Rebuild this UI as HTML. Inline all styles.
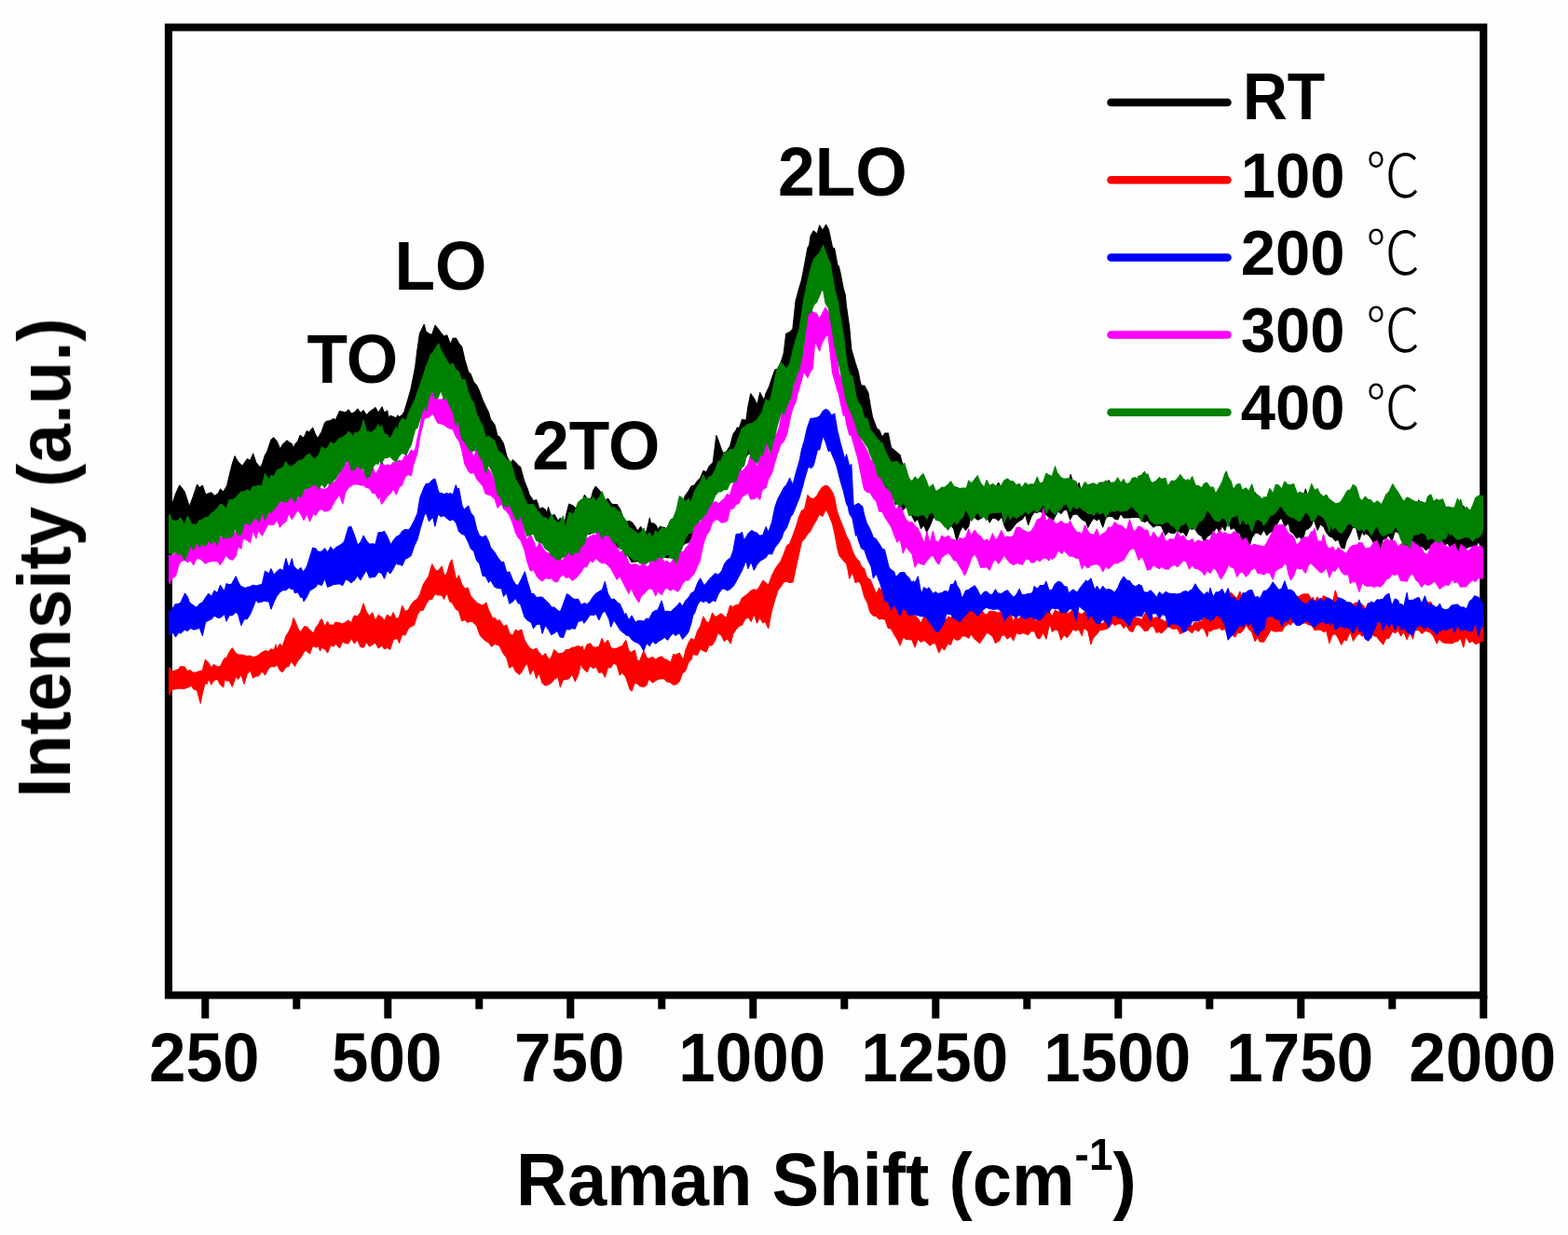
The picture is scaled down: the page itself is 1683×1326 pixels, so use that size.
<!DOCTYPE html>
<html lang="en"><head><meta charset="utf-8"><title>Raman Shift</title>
<style>html,body{margin:0;padding:0;background:#fefefe;}body{width:1683px;height:1326px;overflow:hidden;}svg{display:block;}text{font-family:"Liberation Sans","Noto Sans CJK KR","Noto Sans CJK SC","NanumGothic",sans-serif;font-weight:bold;fill:#000;}.c{stroke-linejoin:round;stroke-width:1.2;}</style></head><body>
<svg width="1683" height="1326" viewBox="0 0 1683 1326">
<rect x="0" y="0" width="1683" height="1326" fill="#fefefe"/>
<filter id="soft" x="0" y="0" width="1683" height="1326" filterUnits="userSpaceOnUse"><feGaussianBlur stdDeviation="0.55"/></filter>
<g filter="url(#soft)">
<clipPath id="pc"><rect x="180.9" y="29.4" width="1411.4" height="1039.1"/></clipPath>
<rect x="180.9" y="29.4" width="1411.4" height="1039.1" fill="none" stroke="#000" stroke-width="8.1"/>
<g clip-path="url(#pc)">
<path class="c" fill="#000000" stroke="#000000" d="M179.5,541.0 182.1,542.9 184.3,542.7 188.5,530.6 192.6,521.2 194.9,523.7 198.1,528.1 201.3,537.7 203.3,544.3 207.7,532.3 211.6,520.4 214.1,523.9 217.3,521.3 220.5,530.5 222.3,530.6 223.7,529.9 226.9,528.9 230.1,532.6 234.2,529.9 236.5,525.2 239.7,528.4 243.7,521.5 246.1,511.2 249.3,498.1 252.0,489.9 255.7,496.2 258.9,499.3 260.3,500.1 262.1,497.5 265.3,492.9 268.6,494.6 271.7,487.2 274.9,496.9 279.3,502.1 281.3,498.6 284.5,488.6 286.5,485.6 290.9,472.4 293.6,469.9 297.3,474.2 300.7,482.3 303.7,477.1 307.8,473.1 310.1,474.7 313.3,476.8 315.0,481.6 316.5,477.4 319.7,474.0 322.1,467.4 326.1,470.4 329.3,462.8 331.6,464.5 335.7,459.5 338.9,467.4 341.1,470.8 345.3,463.5 348.5,454.1 350.6,452.4 354.9,451.5 358.1,449.6 360.1,451.2 364.5,441.6 368.5,442.4 370.9,442.9 374.1,439.9 376.8,444.0 380.5,442.9 383.9,439.1 386.9,443.7 390.1,440.7 393.4,445.9 396.5,442.3 400.5,439.6 402.9,437.6 406.1,443.3 410.0,437.1 412.5,443.2 415.7,441.0 417.2,449.7 418.9,446.3 422.1,447.6 425.3,449.0 426.7,446.0 428.5,447.9 431.7,445.5 433.8,442.5 438.1,428.2 440.9,418.5 445.7,394.4 447.7,377.6 450.5,358.2 455.2,348.6 457.3,356.3 461.1,358.8 463.7,359.1 467.1,349.5 470.1,353.1 473.3,357.3 476.6,361.3 479.7,359.9 483.7,369.9 486.1,363.3 489.3,363.1 493.2,369.7 495.7,372.5 498.9,386.5 502.7,399.5 505.3,402.0 508.5,410.5 511.7,413.9 514.6,420.1 518.1,429.7 521.3,436.6 524.5,443.0 526.5,450.3 530.9,456.0 534.1,468.3 536.0,468.7 540.5,476.6 543.7,489.2 545.5,493.6 546.9,500.2 550.1,493.8 553.3,496.4 556.5,500.3 558.5,501.2 562.9,517.1 566.1,524.7 568.0,531.0 572.5,537.8 575.7,536.7 577.5,541.7 578.9,546.8 582.1,544.9 585.3,547.3 587.0,551.8 588.5,544.6 591.7,555.0 594.9,552.4 598.9,559.3 601.3,556.4 604.5,559.4 606.1,561.8 607.7,553.2 610.8,541.2 614.1,542.5 617.3,545.1 620.3,550.0 623.7,541.5 627.4,531.5 630.1,535.5 634.6,535.2 636.5,527.3 639.3,522.4 642.9,526.2 646.5,531.0 649.3,538.2 652.5,535.3 656.0,540.7 658.9,541.7 662.1,541.7 665.5,546.8 668.5,554.9 672.6,560.5 674.9,559.4 678.1,560.7 682.1,566.2 684.5,570.2 687.7,565.6 691.6,573.2 694.1,570.2 697.3,556.3 698.7,562.7 700.5,561.4 703.7,563.5 706.9,569.4 708.3,565.3 710.1,565.9 713.3,566.5 715.4,567.7 719.7,560.9 722.9,556.8 724.9,554.5 729.3,540.6 732.5,541.8 734.4,535.1 735.7,531.8 738.9,527.6 742.1,522.1 745.3,521.0 748.7,516.3 751.7,513.5 754.9,505.6 758.2,507.0 761.3,500.6 765.3,496.6 768.9,467.7 770.9,472.8 774.8,484.1 777.3,487.4 780.5,484.0 781.9,481.5 783.7,478.9 786.9,466.5 790.1,461.8 791.4,459.0 793.3,460.1 796.5,450.4 800.9,451.3 802.9,436.8 805.7,422.9 809.3,427.8 812.8,434.8 815.7,421.6 820.0,430.0 822.1,422.4 825.9,414.5 828.5,406.2 831.8,397.1 834.9,396.2 839.0,386.7 841.3,379.3 843.7,358.6 847.7,356.6 850.9,353.5 854.1,323.0 855.6,317.8 857.3,311.1 860.5,300.3 862.7,289.0 866.9,266.4 868.7,263.3 870.1,253.4 873.3,247.9 877.0,251.5 879.7,242.0 882.9,247.6 886.6,241.4 889.3,246.2 893.5,265.7 895.7,267.1 898.9,284.6 900.3,285.9 902.1,293.6 905.3,310.2 907.1,316.1 908.5,329.3 911.7,351.6 913.8,375.1 918.1,390.0 921.3,399.8 922.9,408.6 924.5,414.1 927.7,414.0 931.9,421.9 934.1,435.3 936.5,447.9 941.0,459.9 943.7,462.0 946.9,469.4 950.0,465.2 953.3,465.0 956.5,480.7 959.1,482.8 962.9,485.9 966.1,488.7 968.1,496.5 972.5,504.4 975.6,516.8 978.9,520.7 982.1,520.4 985.1,522.7 988.5,519.9 991.0,516.8 994.9,527.9 997.0,530.7 1001.3,523.8 1004.5,533.5 1008.8,532.3 1010.9,532.4 1014.1,530.3 1018.3,528.2 1020.5,528.1 1023.7,530.4 1027.8,529.8 1030.1,528.2 1033.3,526.5 1037.4,530.4 1039.7,522.0 1042.9,523.1 1046.1,519.0 1049.2,518.8 1052.5,526.0 1056.4,529.4 1058.9,529.6 1062.1,523.3 1065.9,526.6 1068.5,523.7 1071.7,518.3 1074.9,525.2 1077.8,523.9 1081.3,524.1 1083.7,526.0 1087.3,517.2 1090.8,525.1 1094.1,527.3 1096.8,531.2 1100.5,527.9 1103.7,528.7 1106.3,525.9 1110.1,523.4 1113.3,526.8 1115.8,526.8 1119.7,526.3 1122.9,524.3 1125.3,518.1 1129.3,518.0 1132.5,517.6 1134.8,517.0 1138.9,522.2 1141.9,522.3 1146.2,519.5 1149.1,509.6 1152.4,519.6 1154.9,525.3 1158.1,518.4 1160.9,529.5 1164.5,529.4 1167.7,525.0 1170.5,526.5 1174.1,524.7 1177.3,524.0 1180.5,522.7 1184.7,524.4 1186.9,520.9 1190.1,515.7 1193.3,521.8 1196.6,525.5 1199.7,531.3 1202.9,520.7 1206.1,527.4 1208.5,526.9 1212.5,523.1 1215.7,526.7 1218.9,517.0 1220.4,521.7 1222.1,521.0 1225.3,520.5 1228.5,513.1 1229.9,516.7 1231.7,509.3 1234.9,522.9 1237.0,525.6 1241.3,521.6 1244.1,513.3 1247.5,521.7 1250.9,522.5 1253.6,527.5 1257.3,519.7 1260.5,521.9 1263.1,521.8 1266.9,524.2 1270.1,521.5 1273.3,521.4 1275.0,522.3 1276.5,525.3 1279.7,516.3 1282.9,524.9 1284.5,526.5 1286.1,524.1 1290.0,529.4 1292.5,529.9 1295.2,524.0 1298.9,529.9 1302.1,531.1 1304.7,537.2 1308.5,524.2 1311.7,527.5 1314.9,511.6 1316.5,515.0 1318.1,517.6 1321.3,524.5 1323.7,531.4 1327.7,530.3 1330.9,527.5 1333.2,532.4 1337.3,531.9 1340.5,527.8 1343.7,531.2 1345.1,532.7 1346.9,528.9 1350.1,533.0 1354.6,544.0 1356.5,540.2 1359.7,541.3 1362.9,533.7 1366.5,535.8 1369.3,536.5 1372.5,528.6 1375.7,526.6 1378.9,526.2 1380.7,524.7 1382.1,522.0 1385.3,526.7 1388.5,530.5 1392.6,537.2 1394.9,535.0 1398.1,538.1 1401.3,525.1 1404.5,537.2 1407.7,531.2 1410.9,532.1 1414.1,540.6 1416.4,536.8 1421.1,537.3 1424.0,534.8 1427.1,540.3 1430.1,539.1 1433.3,541.5 1437.8,546.0 1439.7,541.5 1442.9,543.6 1446.1,534.9 1449.6,532.5 1452.5,537.6 1455.7,539.0 1459.2,541.8 1462.1,541.8 1465.3,542.1 1468.5,543.6 1471.0,544.8 1474.9,541.0 1478.1,546.4 1481.3,550.1 1482.9,549.4 1484.5,542.3 1487.7,542.6 1490.9,531.3 1494.8,527.0 1497.3,528.9 1500.5,534.7 1504.3,541.6 1506.9,544.8 1510.1,540.7 1513.3,537.7 1516.2,543.6 1519.7,544.0 1522.9,536.9 1526.1,548.9 1530.5,546.6 1532.5,547.8 1535.7,547.0 1538.9,545.5 1542.1,543.8 1544.7,543.4 1548.5,546.1 1551.7,549.2 1554.2,551.6 1558.1,552.0 1561.3,551.4 1564.5,544.9 1566.1,546.5 1567.7,548.3 1570.9,543.3 1574.4,552.1 1577.5,547.6 1580.4,554.5 1583.7,550.4 1586.9,543.9 1590.1,538.9 1592.2,544.7 1592.2,586.1 1590.1,588.1 1586.9,581.2 1583.7,588.0 1580.5,586.5 1578.0,586.7 1574.1,588.4 1570.9,591.4 1567.7,591.1 1566.1,592.3 1564.5,590.5 1561.3,587.7 1558.1,591.9 1554.2,583.0 1551.7,584.4 1548.5,589.5 1545.3,585.7 1542.1,591.0 1540.0,583.6 1535.7,588.7 1532.5,588.8 1530.5,590.6 1526.1,586.1 1522.9,589.9 1519.7,589.3 1516.5,585.3 1513.3,583.8 1511.4,586.2 1510.1,586.9 1506.9,582.8 1503.7,570.9 1501.9,573.5 1500.5,571.7 1497.3,570.2 1494.1,580.7 1490.0,573.9 1487.7,578.3 1484.5,578.8 1481.3,588.9 1478.2,582.1 1474.9,583.7 1471.7,578.1 1468.5,573.9 1465.3,572.6 1463.9,574.3 1462.1,570.2 1458.9,579.5 1455.7,567.0 1452.0,566.1 1449.3,572.5 1444.9,581.1 1442.9,589.0 1439.7,588.0 1436.5,579.0 1433.3,580.6 1430.6,577.3 1426.9,575.7 1423.7,571.7 1421.1,566.0 1417.3,562.6 1414.1,569.2 1410.9,559.2 1409.2,559.2 1407.7,563.8 1404.5,567.4 1401.3,568.9 1398.1,580.0 1395.0,576.1 1391.7,577.7 1388.5,573.0 1385.3,570.5 1383.1,561.5 1378.9,565.0 1375.7,556.6 1373.6,557.3 1369.3,565.5 1366.1,569.9 1361.7,572.5 1359.7,574.7 1356.5,568.8 1353.3,574.3 1349.8,571.9 1346.9,572.4 1343.7,577.4 1340.5,588.1 1337.9,582.4 1334.1,583.6 1330.8,572.8 1327.7,571.5 1324.5,566.5 1321.3,568.2 1318.1,558.9 1316.5,563.6 1314.9,569.6 1311.7,564.3 1308.5,572.4 1307.0,567.5 1305.3,566.7 1302.1,571.9 1298.9,573.9 1295.2,576.6 1292.5,581.3 1290.0,575.8 1286.1,573.3 1282.2,567.0 1279.7,568.2 1276.5,567.2 1273.3,575.6 1270.3,571.3 1266.9,572.0 1263.7,568.5 1260.5,572.7 1256.0,571.9 1254.1,570.6 1250.9,574.6 1246.5,564.8 1244.5,564.2 1241.3,563.8 1238.1,566.0 1234.6,562.6 1231.7,558.7 1228.5,560.5 1225.3,558.4 1222.7,555.7 1218.9,555.1 1215.7,555.5 1212.5,555.9 1208.5,555.6 1206.1,556.0 1202.9,551.2 1199.7,558.0 1196.5,557.0 1194.2,554.6 1190.1,554.1 1186.9,556.1 1183.7,565.9 1180.0,556.3 1177.3,558.9 1174.1,556.2 1170.9,560.5 1167.7,566.2 1165.7,559.9 1161.3,557.7 1158.1,554.1 1156.2,551.8 1151.7,552.3 1148.5,557.7 1145.3,547.0 1141.9,547.7 1138.9,551.4 1135.7,548.8 1132.5,554.1 1129.3,561.1 1127.7,558.0 1126.1,555.2 1122.9,552.5 1119.7,550.6 1115.8,549.0 1113.3,550.6 1110.1,549.6 1106.9,554.7 1103.7,563.5 1100.5,552.0 1099.2,554.4 1097.3,557.3 1094.1,559.3 1090.9,561.4 1087.3,566.1 1084.5,569.7 1081.3,570.2 1078.1,564.5 1075.4,554.6 1071.7,558.8 1068.5,556.4 1065.3,555.9 1062.1,561.0 1058.9,552.3 1056.4,553.8 1052.5,556.7 1049.3,558.1 1046.1,555.5 1042.1,553.5 1039.7,564.8 1036.5,569.1 1033.3,565.1 1030.2,570.8 1026.9,580.5 1023.7,567.6 1020.5,563.6 1017.3,562.2 1013.6,561.3 1010.9,558.3 1007.7,556.8 1004.5,555.7 1001.7,555.6 998.1,564.4 994.6,571.2 991.7,563.5 988.5,567.3 985.1,556.9 982.1,560.1 978.9,553.9 975.6,546.5 972.5,544.1 969.3,547.3 966.1,542.4 962.9,540.2 961.3,541.8 959.7,535.3 956.5,535.5 953.3,534.5 949.4,528.0 946.9,516.0 943.7,498.3 941.0,486.7 937.3,483.0 934.1,472.6 931.9,469.1 927.7,462.4 924.5,454.1 922.9,452.0 921.3,447.5 918.1,435.3 913.8,423.9 911.7,416.4 908.5,402.4 904.8,391.7 902.1,374.9 898.9,362.8 895.7,336.8 892.5,322.0 889.3,305.6 886.6,295.3 882.9,304.2 879.7,316.0 876.5,321.4 874.6,319.2 873.3,323.7 870.1,336.2 866.9,348.4 862.7,361.2 860.5,373.3 857.3,382.1 854.1,400.5 850.9,410.2 848.5,419.2 844.5,435.9 841.3,431.4 838.1,437.3 834.2,445.2 831.7,448.9 828.5,454.2 825.3,467.2 822.1,468.3 818.9,471.2 815.2,476.2 812.5,484.3 809.3,486.6 806.1,486.5 802.9,487.7 799.7,491.6 796.5,499.8 793.3,494.1 791.4,500.8 790.1,500.2 786.9,508.8 783.7,512.1 780.5,517.6 777.3,517.9 774.1,525.0 770.9,527.9 767.7,523.0 764.5,521.9 761.3,528.1 758.1,536.1 754.9,533.5 751.7,542.7 748.7,536.5 745.3,568.4 743.9,574.3 742.1,577.4 738.9,582.6 735.7,583.1 734.4,584.4 732.5,580.5 729.3,589.3 726.1,593.5 722.9,599.7 720.1,597.9 716.5,598.8 713.3,598.0 710.1,593.7 705.9,598.2 703.7,604.5 700.5,605.9 696.4,600.0 694.1,604.6 690.9,604.8 687.7,603.2 684.5,602.4 682.1,602.8 678.1,603.5 675.0,598.0 671.7,591.4 667.8,589.1 665.3,585.4 662.1,588.6 658.9,585.5 655.7,577.5 653.6,574.8 649.3,574.7 646.1,575.0 642.9,576.9 639.3,569.7 636.5,570.2 633.3,573.5 630.1,572.4 626.9,577.4 625.1,573.8 623.7,580.1 620.5,580.3 617.3,585.8 614.1,583.3 610.9,586.9 607.7,590.7 606.1,594.8 604.5,597.0 601.3,591.8 598.1,589.0 594.9,586.8 591.7,583.2 589.4,584.8 585.3,579.2 582.1,583.3 578.9,575.6 575.7,577.0 572.5,570.1 568.0,571.2 566.1,571.2 562.9,557.3 559.7,551.4 556.5,547.4 553.3,539.8 550.1,535.5 546.9,525.7 545.5,522.1 543.7,518.5 540.5,514.9 537.3,508.2 534.1,499.2 530.9,486.7 526.5,481.2 524.5,473.9 521.3,470.3 518.1,466.9 514.6,454.9 511.7,449.8 508.5,449.2 505.3,438.4 502.7,430.3 498.9,417.6 495.7,416.6 492.5,408.9 490.9,403.5 489.3,400.3 486.1,398.0 482.9,401.0 479.7,407.1 476.5,395.5 473.3,402.2 469.5,393.6 466.9,396.5 463.7,390.1 460.5,395.4 457.3,397.4 455.2,398.1 450.9,418.6 447.7,438.3 445.7,445.4 441.3,456.8 438.1,461.1 436.2,469.8 431.7,471.9 428.5,468.0 425.3,474.2 422.1,478.3 418.9,468.8 415.7,472.2 412.5,475.6 409.3,472.9 407.7,470.4 406.1,477.6 402.9,469.6 399.7,470.0 396.5,482.2 393.3,476.8 390.1,471.7 386.9,471.3 383.7,479.5 380.5,479.5 377.3,476.5 374.1,476.5 370.9,484.2 367.7,484.3 364.5,482.3 360.1,481.6 358.1,484.0 354.9,483.3 351.7,484.8 348.5,490.3 345.3,489.2 342.1,492.5 338.9,491.5 335.7,498.0 332.5,497.4 329.3,499.4 326.1,497.9 322.9,504.3 319.7,503.9 316.5,510.3 312.6,507.1 310.1,516.6 306.9,509.9 303.7,512.8 300.5,513.1 297.3,518.3 294.1,519.6 290.9,523.8 287.7,523.3 284.5,522.3 281.3,523.2 278.1,530.0 274.9,525.5 271.7,530.4 268.5,536.0 265.1,529.9 262.1,534.9 258.9,530.8 255.7,537.4 252.5,546.0 249.3,546.9 246.1,544.8 242.9,558.4 239.7,550.5 236.5,558.7 233.3,555.8 230.1,553.9 226.9,558.9 223.7,563.4 220.5,568.9 217.5,564.7 214.1,574.1 210.9,573.8 207.7,570.1 204.5,571.9 201.3,571.5 198.1,573.6 194.9,575.2 191.7,567.4 188.5,571.1 185.3,577.2 182.1,574.1 179.5,572.5Z"/>
<path class="c" fill="#ff0000" stroke="#ff0000" d="M179.5,722.3 182.1,717.0 184.3,721.2 188.5,719.7 191.7,718.5 193.8,715.7 198.1,716.0 201.3,721.1 203.3,719.4 207.7,722.4 210.9,721.9 215.2,720.3 217.3,720.0 220.5,708.4 223.7,711.8 226.9,717.1 229.4,713.6 233.3,715.9 236.5,715.5 239.7,709.0 241.3,706.6 242.9,707.0 246.1,700.4 249.3,695.8 253.2,701.6 255.7,703.1 258.9,703.2 262.1,703.9 265.1,704.5 268.5,704.2 271.7,705.5 274.9,704.8 277.0,703.7 281.3,700.5 284.5,698.7 288.8,699.5 290.9,696.9 294.1,698.4 296.0,692.3 297.3,697.3 300.5,691.3 303.1,694.6 306.9,683.2 310.2,677.9 313.3,670.8 315.0,663.5 316.5,666.6 319.7,674.5 322.1,679.1 326.9,672.7 329.3,673.2 332.5,676.5 336.4,680.3 338.9,674.1 342.1,670.0 343.5,666.6 345.3,664.7 348.5,672.9 351.7,667.4 353.0,671.1 354.9,671.0 358.1,671.3 360.1,668.1 364.5,668.9 367.7,670.0 369.6,669.0 374.1,666.1 377.3,669.2 379.2,663.0 380.5,661.2 383.7,661.8 386.9,658.0 390.1,648.1 393.4,657.4 396.5,661.8 399.7,657.8 402.9,666.6 406.1,660.5 410.0,663.0 412.5,666.7 415.7,660.1 419.6,663.3 422.1,657.7 425.3,664.8 426.7,663.8 428.5,662.7 431.7,650.3 434.9,656.9 438.6,654.5 441.3,649.4 444.5,645.4 448.1,643.0 450.9,638.0 454.1,628.2 457.3,622.9 460.0,619.0 463.7,605.8 466.9,611.8 470.1,613.4 474.2,608.2 476.5,617.0 479.0,617.8 482.9,604.6 484.9,601.0 489.7,623.2 492.5,617.9 495.6,627.5 498.9,632.2 502.1,631.0 505.3,640.2 507.5,642.6 511.7,647.3 514.6,648.7 518.1,650.3 521.8,647.1 524.5,655.2 528.9,664.2 530.9,663.4 534.1,667.2 536.0,665.6 540.5,672.6 543.7,671.2 546.9,680.2 550.3,682.6 553.3,676.2 556.1,678.1 559.7,676.0 562.9,687.0 565.7,692.2 569.3,696.6 572.5,698.0 575.7,696.1 577.5,699.4 578.9,700.9 582.1,704.9 585.3,701.8 589.4,708.6 591.7,705.7 594.9,697.7 598.9,701.8 601.3,701.5 604.5,701.0 607.7,697.7 610.8,697.3 614.1,695.4 617.3,694.8 620.5,693.6 623.7,695.2 625.1,693.9 626.9,699.9 630.1,692.2 633.3,690.9 637.0,695.2 639.7,695.2 642.9,694.3 646.1,685.6 648.8,691.3 652.5,687.5 655.7,695.5 658.3,696.9 662.1,696.2 665.3,694.4 667.8,693.8 671.7,687.5 674.9,698.9 677.4,700.7 681.3,698.1 684.5,710.6 686.9,708.9 690.9,699.0 694.1,706.0 696.4,707.4 700.5,705.5 703.7,708.5 705.9,706.6 710.1,704.9 713.3,707.9 715.4,708.2 719.7,711.4 722.9,702.5 724.9,703.2 729.3,701.2 732.5,707.8 734.4,705.5 735.7,698.8 739.2,689.9 742.1,685.6 745.3,687.8 748.7,677.5 751.7,672.5 754.9,662.1 758.2,667.9 761.3,668.3 764.5,658.4 767.7,662.6 770.0,661.6 774.1,658.8 777.3,662.0 779.6,663.6 783.7,650.2 786.9,652.0 789.1,650.0 793.3,649.2 796.2,642.6 799.7,639.9 802.9,637.6 805.7,634.6 809.3,632.9 812.5,633.8 815.2,630.0 818.9,623.3 822.1,625.9 824.7,628.7 828.5,618.2 831.8,611.5 834.9,606.9 838.1,602.6 841.3,595.0 844.5,586.3 847.7,583.8 850.9,575.5 854.1,566.8 857.3,556.0 860.4,548.5 863.7,546.5 866.9,531.7 869.9,534.9 873.3,535.5 876.5,533.1 879.4,527.7 882.9,522.8 886.5,521.3 889.3,522.5 893.6,528.9 895.7,534.7 898.4,549.0 902.1,559.1 905.5,567.8 908.5,575.8 911.7,581.4 915.0,591.5 918.1,598.4 922.2,602.7 924.5,608.3 927.7,611.2 930.9,620.6 934.1,622.4 937.5,630.5 940.5,637.8 943.7,631.2 947.0,635.4 950.1,636.7 953.3,645.5 956.5,650.9 959.7,649.4 962.9,650.5 966.1,653.0 969.3,651.0 972.5,647.3 975.6,659.7 978.9,659.6 982.1,661.2 985.1,664.2 988.5,669.4 991.7,661.9 994.9,660.2 997.0,663.8 1001.3,667.9 1004.5,663.7 1008.8,674.1 1010.9,673.3 1014.1,667.0 1018.3,662.1 1020.5,664.0 1023.7,657.9 1026.9,658.5 1030.1,653.6 1032.6,663.8 1036.5,658.7 1039.7,652.9 1042.1,656.6 1046.1,644.8 1049.3,660.1 1052.5,653.8 1056.4,659.1 1058.9,660.3 1062.1,656.4 1065.9,656.6 1068.5,657.0 1071.7,658.3 1075.4,656.1 1078.1,657.8 1081.3,653.8 1084.5,657.8 1087.7,668.1 1089.6,663.0 1094.1,665.1 1097.3,655.9 1100.5,662.6 1103.9,661.9 1106.9,660.2 1110.1,665.9 1113.4,667.4 1116.5,660.3 1119.7,662.6 1122.9,658.1 1126.1,656.4 1129.3,662.0 1132.5,655.2 1135.7,656.8 1137.2,657.3 1138.9,656.1 1142.1,646.7 1145.3,659.0 1149.1,657.2 1151.7,653.7 1154.9,654.8 1158.1,657.9 1160.9,659.9 1164.5,657.0 1167.7,653.3 1170.9,659.9 1175.2,660.5 1177.3,663.5 1180.5,669.3 1184.7,669.2 1186.9,660.2 1190.1,664.5 1193.3,656.7 1196.5,658.3 1199.0,662.9 1202.9,662.3 1206.1,667.4 1209.3,663.0 1210.9,669.5 1212.5,670.2 1215.7,664.1 1218.9,663.4 1222.7,663.7 1225.3,666.2 1228.5,659.6 1231.7,655.1 1234.6,658.9 1238.1,664.4 1241.3,662.5 1244.5,664.7 1246.5,665.0 1250.9,667.7 1254.1,664.3 1257.3,668.2 1260.8,668.0 1263.7,664.6 1266.9,672.3 1270.3,664.0 1273.3,661.5 1276.5,670.1 1279.7,672.5 1282.2,668.4 1286.1,668.1 1290.0,666.7 1292.5,663.3 1295.7,658.4 1297.5,657.8 1298.9,652.4 1302.1,656.3 1305.3,652.2 1308.5,650.8 1311.7,648.3 1314.9,645.2 1318.1,641.8 1321.3,636.3 1323.7,639.0 1327.7,642.8 1330.9,635.2 1334.1,646.7 1337.3,653.7 1340.5,649.6 1343.7,657.3 1345.1,657.4 1346.9,655.6 1350.1,660.5 1353.3,657.2 1356.5,656.3 1359.7,656.5 1362.9,654.4 1366.1,646.2 1368.8,654.0 1372.5,643.1 1375.7,651.1 1378.9,651.5 1382.1,644.0 1385.3,637.9 1388.5,643.7 1392.6,640.3 1394.9,640.3 1398.1,638.1 1401.3,637.9 1404.5,638.0 1407.7,644.6 1409.2,641.3 1410.9,645.9 1414.1,641.1 1417.3,645.5 1420.5,639.7 1423.7,641.5 1426.9,643.1 1430.6,646.1 1433.3,634.2 1436.5,644.9 1440.1,644.0 1442.9,651.8 1446.1,646.5 1449.3,647.1 1452.5,649.1 1455.7,647.0 1458.9,647.3 1462.1,649.2 1463.9,650.9 1465.3,654.2 1468.5,647.5 1471.7,651.8 1474.9,652.7 1478.1,644.5 1481.3,654.2 1484.5,649.6 1487.7,655.6 1490.9,655.6 1494.1,653.1 1497.3,653.2 1500.5,653.9 1503.7,651.3 1506.9,655.5 1510.1,647.2 1511.4,651.1 1513.3,654.4 1516.5,653.0 1519.7,651.2 1522.9,641.4 1526.1,650.4 1529.3,645.0 1532.8,647.0 1535.7,646.4 1538.9,654.1 1542.1,652.0 1545.3,653.7 1547.1,658.3 1548.5,658.4 1551.7,662.3 1554.9,659.3 1558.1,658.9 1561.3,658.7 1564.5,658.8 1567.7,661.5 1570.9,663.4 1574.1,669.3 1577.3,660.5 1580.5,667.4 1583.7,662.3 1586.9,666.5 1590.1,659.5 1592.2,663.2 1592.2,688.4 1590.1,688.1 1586.9,690.2 1585.1,690.9 1583.7,691.4 1580.5,688.2 1577.3,689.9 1573.2,683.1 1570.9,695.0 1567.7,685.1 1564.5,688.3 1561.3,689.2 1558.1,691.0 1554.9,690.4 1551.7,690.3 1548.5,689.6 1544.7,685.9 1542.1,690.7 1538.9,683.5 1535.7,679.5 1532.8,678.0 1529.3,677.5 1526.1,680.2 1522.9,676.4 1518.6,676.7 1516.5,685.9 1513.3,679.0 1510.1,686.5 1506.7,678.1 1503.7,682.6 1500.5,676.7 1497.3,679.7 1494.8,677.5 1490.9,685.1 1487.7,685.2 1484.5,691.9 1482.9,689.8 1481.3,688.2 1478.1,683.8 1474.9,682.8 1473.4,680.6 1471.7,685.2 1468.5,676.9 1465.3,678.5 1462.1,683.2 1459.2,680.0 1455.7,682.7 1452.5,688.0 1449.3,678.0 1444.9,688.1 1442.9,686.1 1439.7,692.1 1435.4,683.3 1433.3,680.6 1430.1,681.3 1426.9,690.6 1423.7,676.9 1421.1,678.4 1417.3,676.1 1414.1,675.8 1410.9,676.5 1409.2,673.5 1407.7,671.4 1404.5,670.7 1401.3,668.6 1397.4,669.5 1394.9,671.6 1391.7,668.5 1388.5,666.8 1385.3,671.0 1383.1,669.5 1378.9,672.4 1375.7,678.0 1373.6,677.4 1369.3,678.1 1366.1,677.1 1364.1,676.3 1359.7,683.8 1356.5,689.1 1352.2,688.9 1350.1,683.9 1346.9,688.4 1343.7,678.5 1340.5,675.6 1337.9,670.8 1334.1,676.9 1330.9,679.7 1327.7,679.6 1326.1,683.6 1324.5,683.3 1321.3,678.3 1318.1,683.0 1314.9,675.0 1311.7,676.5 1309.4,673.9 1305.3,675.3 1302.1,675.7 1298.9,677.9 1297.5,675.6 1295.7,683.4 1292.5,675.6 1290.0,673.7 1286.1,677.8 1282.2,675.4 1279.7,679.5 1276.5,677.2 1273.3,675.5 1270.3,678.6 1266.9,680.6 1263.7,674.7 1260.5,675.1 1258.4,675.2 1254.1,672.2 1250.9,675.5 1246.5,679.9 1244.5,678.0 1241.3,679.3 1238.1,672.0 1234.6,672.8 1231.7,677.2 1228.5,677.3 1225.3,673.2 1222.7,670.7 1218.9,671.4 1215.7,678.5 1212.5,677.2 1208.5,671.1 1206.1,674.4 1202.9,669.3 1199.7,669.8 1196.5,671.3 1194.2,668.7 1190.1,673.7 1186.9,675.4 1183.7,676.2 1182.3,676.3 1180.5,676.3 1177.3,680.6 1172.8,685.7 1170.9,691.7 1167.7,677.2 1163.3,674.2 1161.3,682.6 1158.1,675.8 1154.9,677.1 1151.4,675.6 1148.5,680.5 1145.3,684.5 1141.9,681.4 1138.9,687.0 1135.7,676.6 1132.5,675.8 1129.3,678.2 1127.7,672.2 1126.1,671.4 1122.9,686.0 1119.7,679.0 1115.8,685.8 1113.3,684.7 1110.1,677.3 1106.3,677.8 1103.7,681.3 1100.5,680.6 1099.2,679.4 1097.3,679.6 1094.1,681.0 1090.9,679.2 1087.7,687.7 1084.9,682.8 1081.3,685.9 1078.1,681.6 1074.9,682.3 1073.0,687.4 1071.7,688.1 1068.5,690.4 1065.3,683.0 1061.1,679.9 1058.9,679.5 1055.7,684.3 1051.6,690.5 1049.3,688.5 1046.1,685.9 1042.1,680.5 1039.7,685.1 1036.5,682.9 1032.6,682.6 1030.1,686.5 1026.9,687.3 1023.1,684.3 1020.5,692.3 1017.3,690.9 1013.6,697.8 1010.9,694.8 1007.7,700.6 1004.1,690.5 1001.3,690.6 998.1,693.1 994.6,689.4 991.7,687.2 988.5,689.3 985.1,685.8 982.1,694.8 978.9,686.9 975.6,686.7 972.5,686.3 969.3,683.7 966.1,692.8 963.7,687.5 959.7,680.9 956.5,674.9 953.3,674.4 950.1,665.3 947.0,664.1 943.7,664.8 940.5,661.5 937.5,661.1 934.1,657.6 930.9,646.7 927.7,640.7 924.5,628.4 922.2,624.1 918.1,625.4 914.9,614.2 911.7,621.2 910.3,612.5 908.5,604.7 905.3,601.7 902.1,597.8 900.8,596.1 898.9,589.0 895.7,571.7 893.6,562.5 889.3,551.8 886.5,546.6 882.9,554.3 879.4,551.9 876.5,558.2 873.3,563.3 869.9,570.0 866.9,573.2 863.7,578.1 860.4,581.5 857.3,595.7 854.1,610.3 850.9,625.0 847.7,625.5 844.5,624.2 841.3,624.8 838.1,629.4 834.9,633.8 831.8,643.5 828.3,655.8 824.7,674.5 821.1,667.1 818.9,668.8 815.2,662.7 812.5,668.9 809.3,659.1 806.1,667.3 803.3,662.7 799.7,664.6 796.5,671.0 793.3,672.3 791.4,674.0 790.1,675.4 786.9,680.3 784.3,690.8 780.5,685.5 777.3,688.3 774.1,681.7 772.4,681.1 770.9,678.3 767.7,687.1 764.5,692.5 762.9,693.2 761.3,692.0 758.1,700.0 754.9,698.7 753.4,697.7 751.7,696.5 748.5,703.2 745.3,702.8 743.9,701.2 742.1,707.5 738.9,711.3 735.7,720.1 734.4,721.5 732.5,722.6 729.3,731.3 726.1,734.6 722.9,735.2 719.7,732.7 715.4,731.6 713.3,728.9 710.1,728.3 705.9,729.5 703.7,730.7 700.5,732.8 696.4,728.8 694.1,735.3 690.9,737.4 686.9,736.6 684.5,734.2 681.3,732.9 678.1,741.9 676.2,740.3 671.7,726.7 667.8,721.9 665.3,724.9 662.1,713.8 658.3,712.0 655.7,716.7 652.5,716.5 649.3,727.1 646.5,721.6 642.9,722.2 639.7,715.3 637.0,717.5 633.3,714.8 630.1,721.4 626.9,718.6 625.1,716.1 623.7,711.8 620.5,724.8 617.3,731.4 614.1,723.7 610.8,728.4 607.7,729.5 604.5,729.6 601.3,737.4 598.9,726.4 594.9,729.2 591.7,733.2 589.4,734.4 585.3,736.1 582.1,733.2 578.9,723.4 577.5,724.6 575.7,728.3 572.5,717.4 569.3,724.0 565.7,711.8 562.9,715.6 559.7,721.4 557.3,724.0 553.3,720.5 550.3,714.6 546.9,717.0 543.7,706.0 540.5,701.9 536.0,693.1 534.1,692.4 530.9,691.3 527.7,694.1 524.5,689.6 521.8,688.5 518.1,685.1 514.9,681.4 511.7,671.8 507.5,667.7 505.3,667.0 502.1,668.2 498.9,665.4 495.6,666.6 492.5,655.9 489.3,653.7 484.9,646.4 482.9,646.1 479.7,636.6 476.5,643.1 474.2,638.7 470.1,639.0 466.9,637.4 463.7,642.9 460.0,644.1 457.3,648.4 454.1,655.1 450.9,655.3 448.1,659.9 444.5,670.9 441.3,672.6 438.6,674.2 434.9,681.8 431.7,681.1 428.5,690.3 426.7,685.7 425.3,685.7 422.1,686.5 418.9,697.2 415.7,695.3 412.5,696.8 410.0,692.7 406.1,695.7 402.9,689.9 399.7,692.0 396.5,693.9 393.4,689.2 390.1,695.2 386.9,694.5 383.7,686.7 380.5,690.7 379.2,688.6 377.3,685.0 374.1,690.8 370.9,690.7 367.7,688.4 364.5,695.7 360.1,690.8 358.1,694.0 354.9,692.5 351.7,700.6 348.5,696.7 345.3,695.3 343.5,698.6 342.1,693.9 338.9,694.8 335.7,693.1 332.5,701.8 329.3,698.7 326.9,698.7 322.9,705.7 319.7,709.3 316.5,715.1 312.6,709.5 310.1,715.1 306.9,716.1 303.1,721.4 300.5,719.8 297.3,713.3 296.0,715.0 294.1,715.8 290.9,715.5 288.8,717.0 284.5,724.5 281.3,720.7 277.0,725.9 274.9,725.6 271.7,728.0 268.5,719.5 265.1,723.9 262.1,734.2 258.9,724.1 255.7,729.2 253.2,726.0 249.3,737.1 246.1,730.7 242.9,730.8 241.3,728.7 239.7,737.7 236.5,734.9 233.3,729.0 229.4,730.8 226.9,735.0 223.7,728.6 222.3,734.3 220.5,732.9 218.7,738.6 217.3,744.1 215.2,755.2 211.6,741.3 207.7,739.8 205.7,735.9 201.3,738.1 198.1,739.3 193.8,739.2 191.7,738.8 188.5,739.7 184.3,740.5 182.1,745.8 179.5,740.9Z"/>
<path class="c" fill="#0000ff" stroke="#0000ff" d="M179.5,655.1 182.1,656.3 184.3,654.7 188.5,648.7 191.7,648.3 193.8,647.2 198.5,637.2 201.3,641.0 203.3,646.9 208.0,650.4 210.9,652.6 214.1,648.6 217.5,646.7 220.5,642.1 223.7,637.5 227.0,640.5 230.1,634.2 233.3,637.0 236.5,628.5 239.7,633.6 241.3,633.6 242.9,626.8 246.1,627.7 248.4,627.6 253.2,619.0 255.7,625.1 257.9,628.9 262.1,631.3 265.1,630.8 268.5,629.7 271.7,628.3 274.9,629.1 277.0,628.6 281.3,627.3 284.5,613.3 288.8,616.0 290.9,610.8 294.1,617.4 297.3,613.6 300.7,610.9 303.7,613.1 306.9,599.6 310.1,610.1 313.3,599.9 315.0,607.5 316.5,609.4 319.7,612.5 322.9,609.7 324.5,613.1 326.1,613.6 329.3,608.7 331.6,601.4 335.7,588.3 338.9,589.0 341.1,592.3 345.3,592.3 348.5,588.9 351.7,593.4 354.9,587.3 357.8,590.8 361.3,587.3 364.5,585.7 367.7,583.5 369.6,581.5 374.1,566.0 376.8,565.4 380.5,575.0 383.9,585.2 386.9,582.5 390.1,575.3 393.4,580.8 396.5,584.4 399.7,583.8 402.9,584.5 406.1,571.8 410.0,571.5 412.5,570.6 415.7,576.3 419.6,585.2 422.1,580.5 425.3,576.5 426.7,575.5 428.5,575.1 431.7,570.5 434.9,568.4 438.6,569.2 441.3,565.5 444.5,559.4 448.1,551.2 450.9,534.2 455.2,523.5 457.3,519.5 460.5,519.2 464.7,515.0 466.9,514.2 470.1,526.0 471.8,530.5 473.3,529.3 476.5,530.9 479.7,529.5 481.3,530.7 482.9,529.6 486.1,531.2 489.3,520.9 490.9,525.7 492.5,524.3 495.7,541.9 498.0,547.7 502.7,543.3 505.3,550.8 508.5,554.6 511.7,568.3 514.6,575.4 518.1,577.0 521.3,575.1 524.5,581.4 526.5,588.0 530.9,593.1 534.1,598.6 538.4,603.9 540.5,603.2 543.7,614.7 546.9,614.2 550.3,622.7 553.3,627.6 556.1,628.8 559.7,621.8 563.3,614.0 566.1,624.2 570.4,637.9 572.5,637.3 575.7,641.7 579.9,641.0 582.1,641.4 585.3,644.5 589.4,648.4 591.7,651.8 594.9,652.2 598.1,654.9 601.3,657.2 604.5,649.0 608.4,637.9 610.9,639.1 614.1,642.2 617.9,643.7 620.5,643.3 623.7,649.6 627.4,647.6 630.1,649.2 633.3,645.8 637.0,640.3 639.7,637.5 642.9,635.2 646.5,633.2 649.3,624.6 652.5,637.6 656.0,643.8 658.9,643.1 663.1,647.5 665.3,648.4 668.5,655.7 670.2,660.5 671.7,658.6 674.9,666.1 678.1,661.2 682.1,668.5 684.5,666.5 687.7,666.3 690.9,667.3 694.1,663.9 696.4,665.2 700.5,657.5 703.7,655.4 705.9,655.5 710.1,645.2 713.3,656.6 717.8,656.3 719.7,657.1 722.9,654.1 726.1,651.3 729.6,647.2 732.5,651.2 735.7,645.2 739.2,641.6 742.1,636.9 745.3,635.1 748.7,626.1 751.7,621.1 755.8,629.0 758.1,626.5 761.3,622.2 765.3,618.2 767.7,615.7 770.9,617.4 774.8,613.2 777.3,606.2 780.5,601.7 784.3,598.9 786.9,591.6 790.1,573.9 791.4,573.4 793.3,573.7 796.5,571.6 798.6,580.6 802.9,573.3 806.9,569.6 809.3,571.0 812.5,572.3 815.2,575.4 818.9,574.4 822.1,565.7 824.7,571.7 828.5,561.0 831.8,544.7 834.9,535.8 838.1,530.1 841.3,523.7 844.5,520.3 847.7,513.4 850.9,521.1 854.1,508.6 858.0,495.5 860.5,482.7 863.7,472.1 866.3,460.0 870.1,449.3 873.1,449.0 876.5,448.5 879.7,447.1 883.3,441.5 886.1,439.4 889.3,441.1 892.5,446.0 895.7,444.2 898.9,463.0 900.3,468.3 902.1,475.9 905.3,487.8 907.1,494.2 908.5,487.8 911.7,500.8 913.8,498.6 916.1,543.1 918.1,542.2 921.3,540.5 925.7,543.9 927.7,553.3 930.4,562.1 934.1,568.9 937.3,577.3 939.9,578.3 943.7,584.0 946.9,589.3 949.4,590.1 954.2,609.5 956.5,611.8 959.7,614.2 961.3,619.1 962.9,618.6 966.1,615.0 969.3,614.5 970.8,614.8 972.5,617.6 975.7,620.5 978.9,626.1 980.3,623.9 982.1,625.9 985.3,619.1 988.5,635.9 989.8,635.8 991.7,630.7 994.9,633.0 997.0,631.0 1001.3,637.5 1004.5,635.6 1006.5,637.6 1010.9,636.7 1014.1,634.5 1018.3,635.7 1020.5,627.7 1023.7,627.0 1025.5,623.3 1026.9,628.2 1030.1,633.4 1032.6,642.9 1036.5,634.3 1039.7,633.3 1042.1,631.4 1046.1,628.9 1049.3,633.7 1052.5,640.1 1056.4,635.7 1058.9,635.2 1062.1,638.3 1065.3,638.3 1068.5,633.0 1070.6,636.9 1074.9,637.7 1078.1,635.3 1081.3,633.8 1084.9,638.3 1087.7,641.5 1090.9,638.8 1094.1,632.5 1096.8,638.8 1100.5,638.3 1103.7,637.5 1106.9,637.2 1108.7,635.6 1110.1,629.7 1113.3,632.5 1116.5,628.7 1120.5,628.7 1122.9,624.5 1126.1,634.1 1127.7,633.5 1129.3,633.5 1132.5,627.1 1136.0,624.3 1138.9,625.4 1142.1,629.4 1145.3,630.3 1146.7,636.5 1148.5,636.0 1151.7,633.0 1156.2,636.2 1158.1,633.2 1161.3,628.8 1165.7,623.3 1167.7,625.0 1170.9,621.1 1175.2,633.8 1177.3,629.6 1180.5,634.2 1183.7,629.6 1187.1,633.3 1190.1,632.6 1193.3,633.9 1196.6,636.2 1199.7,631.5 1202.9,624.1 1206.1,619.2 1209.3,623.1 1212.5,623.8 1215.6,628.3 1218.9,630.1 1222.1,627.6 1225.3,629.0 1227.5,635.5 1231.7,636.3 1234.9,633.9 1239.4,638.7 1241.3,641.7 1244.5,635.9 1247.7,638.9 1251.3,635.4 1254.1,637.1 1257.3,637.4 1260.5,637.5 1263.1,638.1 1266.9,637.4 1270.1,635.3 1273.3,634.5 1275.0,636.9 1276.5,634.6 1279.7,633.1 1282.9,627.1 1286.1,632.3 1290.0,636.6 1292.5,638.9 1295.7,635.7 1297.5,638.9 1298.9,631.3 1302.1,641.3 1305.3,635.9 1308.5,635.8 1311.8,632.6 1314.9,638.9 1318.1,631.9 1321.3,642.3 1324.5,641.4 1327.7,645.4 1330.8,644.8 1334.1,636.8 1337.3,636.7 1340.3,634.0 1343.7,633.5 1346.9,641.4 1350.1,640.7 1352.2,643.0 1356.5,634.4 1359.3,634.3 1362.9,630.7 1366.1,625.2 1369.3,629.1 1372.5,633.5 1376.0,631.7 1378.9,623.9 1382.1,633.4 1385.5,633.3 1388.5,635.4 1391.7,640.3 1394.9,643.8 1397.4,646.6 1401.3,649.0 1404.5,647.2 1407.7,643.0 1411.6,646.5 1414.1,645.6 1417.3,642.4 1420.5,647.2 1423.7,642.4 1425.9,642.3 1430.1,644.7 1433.0,648.6 1436.5,641.7 1439.7,642.9 1442.5,644.2 1446.1,646.9 1449.3,647.2 1452.5,650.3 1454.4,651.5 1455.7,652.4 1458.9,644.1 1462.1,652.9 1463.9,654.0 1465.3,654.9 1468.5,649.3 1471.7,646.2 1474.9,647.6 1478.1,643.9 1480.5,644.0 1484.5,643.3 1487.7,638.8 1490.9,637.5 1492.4,644.3 1494.1,650.6 1497.3,643.0 1500.5,644.5 1501.9,648.8 1503.7,648.5 1506.9,650.8 1510.1,636.3 1511.4,644.3 1513.3,644.7 1516.5,644.4 1520.9,641.9 1522.9,642.1 1526.1,648.2 1529.3,640.0 1532.8,649.8 1535.7,648.5 1538.9,650.5 1542.1,652.7 1545.3,648.3 1547.1,652.6 1548.5,653.9 1551.7,654.8 1554.9,653.9 1558.1,650.2 1561.3,649.3 1564.5,649.2 1567.7,652.0 1570.9,651.9 1574.1,654.0 1577.3,645.9 1580.5,643.2 1582.7,639.8 1586.9,641.4 1590.1,647.6 1592.2,647.1 1592.2,674.1 1590.1,670.6 1586.9,683.5 1583.7,667.3 1580.5,677.2 1577.3,677.6 1573.2,676.0 1570.9,675.7 1567.7,676.8 1564.5,670.9 1561.3,678.8 1559.0,673.1 1554.9,674.9 1551.7,676.8 1548.5,674.6 1547.1,677.5 1545.3,676.3 1542.1,681.2 1538.9,676.8 1535.2,675.1 1532.5,671.9 1529.3,675.1 1525.7,671.9 1522.9,671.2 1519.7,674.6 1516.5,681.4 1513.3,680.4 1511.4,679.2 1510.1,677.6 1506.9,674.3 1503.7,675.7 1501.9,671.5 1500.5,669.9 1497.3,676.2 1494.1,668.0 1492.4,670.7 1490.9,673.2 1487.7,668.7 1484.5,676.9 1481.3,666.0 1478.2,668.6 1474.9,676.2 1471.7,683.4 1468.7,687.9 1465.3,685.8 1462.1,677.2 1458.9,677.4 1456.8,670.1 1452.5,679.8 1449.3,675.4 1446.1,673.4 1442.5,674.1 1439.7,671.9 1436.5,673.5 1433.3,675.9 1430.1,666.2 1428.3,671.0 1426.9,668.3 1423.7,669.7 1420.5,667.4 1416.4,668.2 1414.1,670.1 1410.9,673.1 1407.7,671.0 1404.5,667.2 1402.1,666.4 1398.1,669.1 1394.9,671.2 1391.7,671.3 1387.8,667.1 1385.3,661.7 1382.1,667.3 1378.9,666.1 1375.7,672.2 1373.6,665.6 1369.3,664.5 1366.1,661.5 1361.7,661.9 1359.7,661.6 1356.5,676.0 1352.2,678.0 1350.1,682.9 1346.9,678.7 1342.7,667.3 1340.5,671.5 1337.3,668.6 1334.1,673.1 1330.8,670.9 1327.7,674.8 1324.5,679.9 1321.3,683.0 1318.1,686.8 1314.9,671.2 1311.7,664.5 1309.4,662.3 1305.3,660.4 1302.1,665.2 1298.9,666.4 1297.5,663.8 1295.7,664.6 1292.5,661.5 1290.0,664.6 1286.1,666.6 1282.9,666.4 1279.7,667.0 1276.5,672.6 1275.0,671.0 1273.3,677.5 1270.1,678.7 1266.9,672.1 1263.7,670.6 1260.8,669.8 1257.3,669.5 1254.1,673.0 1251.3,661.5 1247.7,659.2 1244.5,664.1 1241.3,658.8 1237.0,658.5 1234.9,666.7 1231.7,660.3 1228.5,655.6 1225.3,662.0 1222.7,661.0 1218.9,661.7 1215.7,663.6 1212.5,672.0 1208.5,667.8 1206.1,665.3 1202.9,663.3 1199.7,663.0 1196.5,660.4 1194.2,660.5 1190.1,673.5 1186.9,667.0 1183.7,664.9 1180.0,669.6 1177.3,669.5 1174.1,664.8 1170.9,659.9 1167.7,665.2 1165.7,656.6 1161.3,653.4 1158.1,650.3 1154.9,666.1 1151.4,654.1 1148.5,653.4 1145.3,656.9 1141.9,657.5 1138.9,657.7 1135.7,652.9 1132.5,653.6 1129.3,652.7 1127.7,654.1 1126.1,657.2 1122.9,657.1 1119.7,662.1 1115.8,665.7 1113.3,665.1 1110.1,664.6 1106.9,661.5 1103.9,663.0 1100.5,664.4 1097.3,662.8 1094.1,659.8 1090.9,663.1 1087.3,660.9 1084.5,659.0 1081.3,661.8 1078.1,666.3 1074.9,655.9 1070.6,653.5 1068.5,654.2 1065.3,654.1 1062.1,653.4 1058.9,652.3 1056.4,653.5 1052.5,657.3 1049.3,661.3 1046.1,657.7 1042.9,655.3 1039.7,656.5 1036.5,660.5 1033.3,663.1 1030.1,667.7 1027.8,665.6 1023.7,663.8 1020.5,659.4 1017.3,659.4 1016.0,658.2 1014.1,666.2 1010.9,672.7 1006.5,678.5 1004.5,678.0 1001.3,672.7 998.1,668.4 994.6,663.1 991.7,661.5 988.5,661.6 985.1,660.6 982.1,659.9 978.9,659.8 975.7,660.5 973.2,656.2 969.3,652.3 966.1,661.3 962.9,654.5 961.3,651.4 959.7,649.0 956.5,654.7 953.3,645.8 951.8,646.0 950.1,645.6 946.9,633.6 944.7,626.4 940.5,615.7 937.3,620.6 935.2,608.7 930.9,599.5 928.0,590.7 924.5,588.6 921.3,579.6 919.8,573.7 918.5,575.0 914.9,556.2 911.7,551.3 910.3,544.0 908.5,540.6 905.3,527.1 902.5,517.9 898.0,500.4 895.7,493.9 891.2,483.2 889.3,484.5 886.1,474.3 883.3,467.6 879.7,482.8 877.6,482.3 873.3,499.3 870.9,502.4 867.5,501.2 863.7,513.8 860.5,525.8 858.0,534.3 854.1,543.9 850.9,551.8 848.5,555.0 844.5,566.4 841.3,570.6 839.0,577.5 834.9,583.9 831.7,587.7 828.5,594.9 824.7,594.4 822.1,598.3 818.9,600.4 815.7,602.3 812.8,605.5 809.3,612.0 806.1,602.8 802.9,610.4 800.9,601.7 796.5,612.1 793.3,618.2 789.1,625.9 786.9,629.4 783.7,632.4 780.5,634.0 777.3,632.1 774.8,632.2 770.9,638.0 767.7,645.8 765.3,644.2 761.3,647.7 758.1,645.0 754.9,646.5 753.4,645.1 751.7,644.9 748.5,649.4 745.3,658.7 743.9,660.2 742.1,668.2 738.9,678.5 736.8,681.3 732.5,686.0 729.3,679.6 724.9,682.3 722.9,679.6 719.7,682.5 716.5,687.2 713.3,683.9 710.6,686.4 706.9,688.2 703.7,691.1 700.5,688.5 698.7,690.9 697.3,693.6 694.1,690.3 690.9,698.6 687.7,692.7 684.5,690.1 681.3,689.0 678.1,686.5 674.9,682.3 672.6,682.1 668.5,678.8 665.3,675.7 663.1,672.2 658.9,665.5 655.7,673.0 653.6,664.2 649.3,656.0 646.5,657.8 642.9,665.5 639.7,659.1 637.0,660.5 633.3,659.8 630.1,665.0 626.9,669.0 625.1,665.2 623.7,666.6 620.5,667.1 617.3,675.1 613.2,674.4 610.9,676.0 607.7,675.4 604.5,684.5 601.3,683.9 598.1,677.0 594.9,679.8 591.7,681.4 589.4,676.9 585.3,671.0 582.1,680.1 579.9,670.0 575.7,670.3 572.5,674.6 570.4,668.4 566.1,665.8 562.9,662.1 558.5,648.0 556.5,648.0 553.3,642.0 550.3,645.8 546.9,648.0 543.7,636.3 540.5,640.0 538.4,631.8 534.1,631.4 530.9,629.9 526.5,622.5 524.5,625.3 521.3,618.8 518.1,618.2 514.6,604.9 511.7,601.7 508.5,591.5 505.3,588.7 502.7,582.2 498.9,574.5 495.7,573.3 492.5,570.2 490.9,565.0 489.3,560.8 486.1,557.4 482.9,558.9 479.7,556.2 476.6,553.5 473.3,554.6 470.1,551.9 466.9,565.0 464.7,554.9 460.5,559.6 457.3,550.2 455.2,553.5 450.9,568.0 448.1,578.9 444.5,586.2 441.3,596.0 438.6,598.5 434.9,600.1 431.7,607.3 428.5,605.8 426.7,606.0 425.3,603.9 422.1,610.5 418.9,615.7 415.7,612.4 412.5,621.0 410.0,615.8 406.1,613.9 402.9,618.9 399.7,619.6 396.5,620.1 393.4,612.1 390.1,617.3 386.9,622.7 383.7,617.8 380.5,622.8 376.8,625.6 374.1,623.2 370.9,621.8 367.7,628.5 364.5,626.7 361.3,627.1 357.8,627.4 354.9,629.0 351.7,630.2 348.5,620.7 345.3,628.4 341.1,626.7 338.9,630.0 335.7,632.3 332.5,633.9 329.3,640.8 326.1,645.5 324.5,640.3 322.9,641.4 319.7,635.6 316.5,636.7 315.0,632.0 313.3,632.8 310.1,630.5 306.9,633.7 303.7,633.6 300.7,635.4 297.3,639.5 294.1,646.1 290.9,653.9 288.8,646.1 284.5,645.0 281.3,646.0 277.0,647.0 274.9,643.6 271.7,651.7 268.5,659.5 265.1,664.6 262.1,664.5 258.9,671.3 255.7,659.7 253.2,657.1 249.3,660.6 246.1,660.7 242.9,666.9 241.3,659.5 239.7,660.3 236.5,663.1 233.3,663.1 230.1,660.7 227.0,664.5 223.7,666.1 220.5,667.9 217.3,682.4 214.1,673.7 210.9,675.4 208.0,676.0 204.5,674.3 201.3,677.4 198.1,675.8 193.8,680.0 191.7,678.9 188.5,683.6 184.3,676.9 182.1,681.7 179.5,676.0Z"/>
<path class="c" fill="#ff00ff" stroke="#ff00ff" d="M179.5,596.3 182.1,596.4 184.3,597.3 188.5,594.0 191.7,586.7 193.8,593.7 198.1,590.7 201.3,588.8 205.7,584.6 207.7,582.8 210.9,584.5 214.1,581.5 217.5,581.0 220.5,583.7 223.7,569.7 226.9,575.2 229.4,578.7 233.3,576.4 236.5,576.8 239.7,577.1 241.3,574.1 242.9,568.8 246.1,570.6 249.3,575.3 253.2,570.8 255.7,562.5 258.9,553.7 260.3,552.0 262.1,551.4 265.3,551.3 268.5,553.2 269.8,556.8 271.7,553.2 274.9,546.5 277.0,552.4 281.3,547.6 284.5,546.6 287.7,545.9 290.9,543.3 293.6,542.5 297.3,537.1 300.5,541.2 303.1,535.9 306.9,530.7 310.1,526.2 313.3,533.8 317.4,533.0 319.7,535.8 322.9,529.2 326.9,526.9 329.3,524.9 332.5,518.7 336.4,519.7 338.9,514.6 342.1,522.6 345.3,525.2 348.3,525.5 351.7,524.1 354.9,518.0 358.1,518.3 360.1,516.6 364.5,509.4 367.7,496.7 372.0,499.2 374.1,491.2 377.3,494.2 379.2,488.0 380.5,489.4 383.7,495.7 386.9,503.2 388.7,504.3 390.1,506.7 393.4,511.8 396.5,501.6 399.7,500.3 402.9,509.5 406.1,504.6 407.7,501.2 409.3,494.8 412.5,500.4 415.7,499.1 419.6,499.9 422.1,496.4 425.3,497.2 428.5,494.1 431.4,495.5 434.9,489.2 438.1,489.3 441.3,483.0 443.3,485.7 445.7,482.8 447.7,472.7 450.9,457.7 455.2,434.2 457.3,427.6 460.5,425.7 464.7,421.8 466.9,417.6 470.1,429.1 474.2,429.0 476.5,428.0 479.7,429.2 483.7,432.4 486.1,438.5 489.3,444.1 493.2,451.4 495.7,458.1 498.9,463.6 502.7,478.6 505.3,481.7 508.5,491.9 511.7,480.3 514.6,492.0 518.1,494.8 521.3,500.9 524.5,503.8 526.5,507.0 530.9,515.9 534.1,522.4 538.4,532.0 540.5,534.4 543.7,532.4 546.9,539.1 550.3,546.5 553.3,551.3 556.5,555.3 558.5,553.8 562.9,571.5 565.7,580.7 569.3,573.7 572.5,580.4 575.7,588.9 577.5,586.0 578.9,582.1 582.1,587.2 585.3,592.6 589.4,594.6 591.7,592.8 594.9,595.4 598.1,592.9 601.3,600.6 604.5,601.9 607.7,589.1 610.8,594.6 614.1,587.2 617.3,588.0 620.3,591.9 623.7,580.3 626.9,579.4 629.8,578.3 633.3,576.3 636.5,574.5 639.3,574.3 642.9,570.9 646.1,571.4 648.8,573.6 652.5,576.4 655.7,574.0 658.3,582.3 662.1,587.4 665.3,593.6 667.8,591.7 671.7,596.3 674.9,604.7 677.4,606.7 681.3,605.6 684.5,606.7 686.9,608.6 690.9,603.2 694.1,609.1 696.4,608.0 700.5,597.1 703.7,598.9 705.9,599.1 710.1,598.1 713.3,604.1 715.4,602.3 719.7,605.4 722.9,599.8 724.9,597.9 729.3,590.5 732.5,593.2 734.4,591.5 735.7,588.9 738.9,585.7 742.1,579.2 743.9,572.5 745.3,561.5 748.5,559.5 751.7,561.6 753.4,557.2 754.9,555.4 758.1,546.4 761.3,539.7 762.9,542.8 764.5,541.1 767.7,538.5 770.9,540.8 772.4,540.0 774.1,538.3 777.3,535.6 780.5,530.7 781.9,531.8 783.7,531.0 786.9,520.2 790.1,511.3 791.4,509.5 793.3,500.4 796.5,506.8 800.9,501.0 802.9,498.5 805.7,488.3 809.3,490.7 812.8,503.2 815.7,489.5 818.9,486.1 822.3,475.0 825.3,485.5 827.1,489.0 828.5,482.2 831.7,470.4 834.9,463.3 836.6,457.9 839.0,444.5 841.3,441.2 844.5,435.2 848.5,430.7 850.9,418.1 854.1,409.0 855.6,404.6 857.3,393.3 860.5,384.6 862.7,377.5 867.5,339.2 870.1,333.1 872.2,334.8 876.5,336.9 879.4,342.5 882.2,337.4 886.1,330.1 889.3,336.2 891.2,338.9 895.7,356.5 898.9,389.0 900.3,401.0 902.1,404.0 905.3,404.0 909.3,410.4 911.7,429.7 913.8,441.1 918.1,452.0 921.3,467.5 922.9,468.5 924.5,473.4 927.7,478.2 931.9,486.9 934.1,493.3 937.3,496.4 941.0,508.1 943.7,511.4 946.9,517.1 950.1,522.5 951.8,526.4 953.3,522.8 956.5,531.0 959.7,542.1 961.3,547.1 962.9,546.0 966.1,540.5 969.3,550.7 970.8,554.3 972.5,558.1 975.7,560.7 978.9,560.5 982.1,564.9 985.1,567.4 988.5,574.8 992.2,583.8 994.9,570.8 998.1,584.0 1001.3,570.4 1004.1,580.9 1007.7,582.3 1010.9,575.3 1014.1,577.4 1018.3,575.4 1020.5,578.9 1023.7,579.2 1027.8,581.8 1030.1,577.5 1033.3,578.7 1036.5,577.3 1039.7,568.2 1042.1,575.2 1046.1,569.3 1049.3,573.7 1052.5,576.0 1056.4,581.1 1058.9,579.0 1062.1,581.8 1065.3,572.9 1068.5,579.4 1070.6,578.4 1074.9,569.6 1078.1,577.3 1081.3,576.0 1084.9,576.9 1087.7,575.5 1090.9,566.6 1094.4,566.2 1097.3,568.7 1100.5,570.5 1103.9,571.9 1106.9,570.2 1110.1,565.6 1113.3,558.1 1116.5,556.9 1118.2,554.4 1119.7,545.8 1122.9,560.1 1126.1,556.2 1130.0,558.9 1132.5,561.8 1135.7,562.1 1138.9,559.4 1142.1,562.2 1145.3,562.3 1146.7,562.6 1148.5,559.2 1151.7,565.9 1156.2,572.0 1158.1,571.4 1161.3,574.0 1164.5,564.0 1168.1,571.6 1170.9,573.7 1174.1,574.4 1177.3,568.3 1180.0,576.3 1183.7,572.9 1186.9,571.6 1189.5,566.4 1193.3,566.3 1196.5,560.7 1199.7,563.6 1203.7,564.4 1206.1,566.4 1209.3,569.4 1212.5,558.2 1215.7,568.0 1218.0,570.9 1222.1,565.1 1225.3,566.4 1228.5,569.5 1229.9,569.1 1231.7,569.4 1234.9,578.4 1238.1,571.3 1241.8,576.8 1244.5,577.8 1247.7,571.2 1250.9,581.0 1254.1,580.5 1256.0,578.5 1260.5,579.6 1263.7,571.2 1266.9,576.8 1270.3,575.0 1273.3,580.1 1276.5,580.8 1279.7,578.7 1282.2,583.3 1286.1,580.0 1290.0,581.8 1292.5,580.9 1295.7,579.6 1297.5,580.5 1298.9,579.4 1302.1,570.4 1305.3,574.9 1309.4,569.4 1311.7,573.0 1314.9,571.7 1318.1,573.9 1321.3,573.9 1324.5,570.9 1327.7,572.2 1330.9,575.9 1333.2,581.0 1337.3,577.6 1340.5,584.4 1343.7,586.6 1345.1,584.5 1346.9,584.6 1350.1,585.7 1353.3,586.2 1357.0,587.0 1359.7,583.1 1362.9,576.7 1366.1,570.9 1369.3,563.3 1371.2,564.0 1375.7,563.3 1378.9,565.3 1383.1,573.1 1385.3,574.0 1388.5,576.5 1391.7,585.4 1395.0,582.5 1398.1,577.7 1401.3,576.8 1404.5,577.2 1407.7,570.8 1409.2,571.3 1410.9,567.6 1414.1,580.9 1417.3,581.4 1418.7,582.1 1420.5,573.9 1423.7,586.1 1426.9,589.4 1430.6,587.1 1433.3,592.3 1436.5,588.1 1439.7,590.7 1442.9,593.3 1444.9,594.7 1449.3,587.6 1452.5,585.5 1456.8,585.2 1458.9,582.6 1462.1,583.1 1465.3,589.2 1468.5,588.7 1471.0,587.9 1474.9,582.2 1478.1,580.5 1481.3,591.1 1482.9,587.4 1484.5,583.4 1487.7,578.0 1490.9,580.5 1494.1,580.4 1497.2,580.8 1500.5,587.2 1503.7,584.1 1506.9,583.2 1509.1,586.8 1513.3,581.5 1516.5,581.7 1518.6,583.4 1522.9,586.7 1526.1,588.5 1528.1,593.7 1532.5,595.5 1535.7,586.3 1540.0,582.2 1542.1,577.8 1545.3,576.3 1548.5,583.1 1551.7,586.5 1554.2,587.5 1558.1,586.6 1561.3,584.0 1564.5,593.3 1566.1,591.8 1567.7,585.1 1570.9,586.7 1574.1,591.1 1577.3,590.8 1580.4,587.1 1583.7,585.7 1586.9,587.3 1590.1,586.1 1592.2,592.3 1592.2,621.1 1590.1,621.0 1586.9,620.3 1583.7,624.4 1580.5,622.5 1577.3,625.7 1573.2,630.1 1570.9,629.6 1567.7,630.2 1564.5,624.6 1561.3,625.8 1559.0,621.7 1554.9,628.5 1551.7,627.6 1548.3,629.9 1545.3,632.2 1542.1,627.2 1540.0,623.7 1535.7,627.3 1532.5,628.4 1529.3,626.2 1525.7,630.3 1522.9,625.3 1519.7,622.5 1516.2,615.6 1513.3,617.4 1510.1,624.2 1506.7,623.6 1503.7,623.4 1500.5,616.0 1497.2,617.4 1494.1,616.4 1490.9,621.0 1487.7,622.1 1484.5,627.4 1481.3,630.1 1478.2,629.0 1474.9,630.3 1471.7,629.2 1468.5,629.1 1466.3,629.2 1462.1,625.8 1458.9,635.3 1455.7,625.2 1452.0,624.2 1449.3,626.4 1447.3,616.6 1442.9,617.0 1439.7,613.5 1436.5,607.4 1433.0,613.1 1430.1,612.6 1426.9,619.9 1423.7,609.4 1420.5,613.3 1418.7,614.5 1417.3,614.7 1414.1,611.4 1410.9,608.3 1406.9,604.4 1404.5,606.5 1401.3,615.3 1397.4,610.1 1394.9,611.1 1391.7,609.3 1388.5,618.3 1385.3,622.6 1383.1,616.4 1380.7,605.4 1378.9,605.0 1375.7,609.5 1372.5,610.5 1368.8,613.4 1366.1,622.0 1362.9,615.1 1359.7,614.6 1356.5,616.9 1354.6,616.0 1350.1,615.5 1346.9,609.2 1342.7,612.2 1340.5,615.8 1337.3,619.0 1334.1,614.4 1330.8,614.1 1327.7,619.2 1324.5,609.7 1321.3,609.0 1318.9,605.4 1314.9,614.7 1310.6,621.6 1308.5,618.1 1305.3,611.8 1302.3,609.4 1298.9,615.5 1295.7,612.1 1292.8,617.4 1290.0,613.4 1286.1,611.0 1282.2,609.9 1279.7,606.5 1276.5,611.0 1273.3,602.9 1270.3,601.4 1266.9,605.3 1263.7,608.5 1260.8,606.2 1257.3,607.9 1254.1,611.1 1250.9,610.9 1246.5,608.3 1244.5,610.7 1241.3,608.7 1238.1,606.6 1234.6,611.3 1231.7,612.3 1227.5,600.9 1225.3,597.4 1222.1,601.3 1218.0,589.8 1215.7,588.5 1212.5,590.5 1209.3,595.6 1206.1,601.2 1202.9,602.6 1199.7,604.6 1196.5,604.6 1193.3,606.9 1191.8,609.1 1190.1,610.5 1186.9,608.0 1183.7,613.6 1180.5,607.1 1177.3,605.4 1175.2,605.8 1170.9,606.8 1167.7,609.8 1163.3,606.1 1161.3,610.8 1158.1,599.4 1154.9,599.2 1151.4,597.1 1148.5,597.2 1145.3,594.2 1142.1,590.9 1139.6,594.3 1135.7,590.8 1132.5,597.9 1129.3,600.5 1127.7,597.2 1126.1,601.8 1122.9,599.3 1119.7,599.0 1115.8,602.7 1113.3,600.3 1110.1,603.9 1106.9,603.9 1103.9,599.9 1100.5,600.5 1097.3,606.3 1094.1,605.1 1092.0,604.4 1087.7,606.3 1084.5,604.5 1080.1,599.6 1078.1,595.7 1074.9,600.6 1071.7,605.1 1068.5,600.7 1065.9,602.9 1062.1,612.2 1058.9,608.4 1056.4,609.2 1052.5,609.1 1049.3,600.0 1046.1,594.8 1044.5,596.7 1042.9,598.5 1039.7,607.6 1036.5,616.0 1035.0,617.3 1033.3,613.5 1030.1,607.9 1026.9,602.5 1025.5,602.0 1023.7,601.4 1020.5,596.0 1017.3,593.4 1013.6,596.2 1010.9,598.3 1007.7,605.8 1004.5,602.0 1001.3,596.2 999.3,596.9 994.9,601.7 991.7,606.4 987.4,604.9 985.3,603.4 982.1,608.8 978.9,594.7 975.6,591.0 972.5,586.3 969.3,593.8 966.1,578.8 962.9,582.0 959.7,574.1 956.5,565.4 953.3,560.4 950.1,555.7 947.0,549.2 943.7,549.2 940.5,537.8 937.5,534.8 934.1,529.0 930.9,528.3 927.7,525.6 925.7,517.0 920.6,491.4 918.1,483.1 913.8,467.3 911.7,466.9 908.5,454.8 907.1,445.8 905.3,446.1 902.1,432.1 900.3,422.5 898.9,419.4 895.7,407.6 893.5,400.1 889.0,359.6 886.1,361.3 882.0,368.8 879.7,376.7 876.5,369.7 874.6,367.2 872.2,395.8 870.1,398.1 866.9,405.4 862.7,398.7 860.5,407.6 857.3,418.9 855.6,423.9 854.1,431.7 850.9,438.2 848.5,447.2 844.5,466.6 841.3,473.8 838.1,476.8 834.2,487.9 831.7,496.3 828.5,508.0 824.7,514.4 822.1,523.7 818.9,525.0 817.6,527.7 815.7,536.3 812.5,533.0 809.3,535.7 805.7,535.8 802.9,529.0 798.6,532.1 796.5,533.1 793.3,540.1 790.1,541.4 786.7,546.1 783.7,546.5 780.5,559.3 777.2,560.7 774.1,561.1 770.9,557.8 767.7,557.8 764.5,561.0 761.3,570.4 758.2,574.3 754.9,584.1 751.0,603.0 748.5,607.8 745.3,615.3 742.1,619.1 739.2,623.0 735.7,623.1 732.5,626.4 729.3,633.1 727.3,635.1 722.9,632.0 719.7,634.1 715.4,631.1 713.3,632.7 710.1,638.6 705.9,634.4 703.7,639.8 700.5,632.7 696.4,631.6 694.1,634.3 690.9,637.5 687.7,640.7 685.7,646.6 681.3,639.9 677.4,631.0 674.9,637.1 671.7,630.9 667.8,623.4 665.3,618.3 662.1,622.2 658.3,614.9 655.7,610.1 652.5,606.7 648.8,603.9 646.1,604.7 642.9,602.4 639.3,598.6 636.5,603.6 633.3,601.4 629.8,608.6 626.9,608.5 623.7,614.1 620.5,617.8 617.9,620.5 614.1,623.2 610.9,619.1 607.7,620.5 604.5,616.7 601.3,619.3 598.1,624.8 594.9,624.2 591.7,620.5 589.4,621.5 585.3,620.5 582.1,623.9 578.9,621.6 575.7,617.8 572.8,611.6 569.3,612.9 565.7,602.5 562.9,590.0 558.5,579.1 556.5,577.4 553.3,571.4 550.3,561.9 546.9,553.1 543.7,548.9 540.5,546.0 538.4,540.7 534.1,545.1 530.9,535.2 526.5,531.8 524.5,531.2 521.3,530.4 518.1,521.5 514.6,517.7 511.7,513.9 508.5,507.3 505.3,508.3 502.7,505.7 498.9,498.3 495.7,483.0 493.2,474.2 489.3,468.6 486.1,460.9 483.7,460.5 479.7,458.5 476.5,456.0 474.2,455.1 470.1,454.2 466.9,448.4 464.7,443.6 460.5,447.8 457.3,448.3 455.2,450.0 450.9,467.9 447.7,487.4 443.3,500.4 441.3,510.9 438.1,509.2 434.9,511.7 431.4,521.1 428.5,522.8 425.3,531.0 422.1,524.7 419.6,529.3 415.7,532.7 412.5,537.5 409.3,541.1 407.7,531.6 406.1,535.6 402.9,529.6 399.7,529.3 396.5,524.2 393.4,523.5 390.1,520.7 386.9,520.8 383.7,519.9 380.5,519.8 379.2,519.9 377.3,521.3 374.1,523.3 370.9,528.2 367.7,540.8 364.5,531.1 360.1,536.5 358.1,539.9 354.9,546.6 351.7,548.7 348.3,548.9 345.3,546.7 342.1,547.5 338.9,553.3 336.4,550.9 332.5,559.7 329.3,551.6 326.1,558.5 322.9,552.0 319.7,547.5 317.4,551.0 313.3,557.4 310.1,550.9 306.9,559.7 303.1,562.4 300.5,566.0 297.3,558.1 293.6,563.5 290.9,563.2 287.7,563.1 284.5,569.0 281.3,574.9 277.0,569.5 274.9,578.1 271.7,569.1 268.5,582.6 265.3,579.9 262.1,578.3 260.3,579.6 258.9,589.1 255.7,586.8 253.2,596.6 249.3,601.3 246.1,600.0 242.9,596.1 241.3,598.1 239.7,600.9 236.5,606.3 233.3,602.4 230.1,602.1 226.9,602.7 223.7,603.3 220.5,605.0 217.5,602.1 214.1,599.5 210.9,599.8 207.7,606.4 204.5,601.5 201.3,603.6 198.1,601.3 193.8,602.9 191.7,607.0 188.5,618.2 184.3,621.3 182.1,626.5 179.5,621.7Z"/>
<path class="c" fill="#008000" stroke="#008000" d="M179.5,558.4 182.1,552.3 184.3,558.3 188.5,559.8 191.7,558.2 193.8,555.9 198.1,564.1 201.3,554.3 205.7,563.2 207.7,562.8 210.9,563.7 214.1,558.8 217.5,557.8 220.5,555.5 223.7,555.4 226.9,550.9 229.4,549.5 233.3,546.1 236.5,541.3 239.7,543.1 241.3,545.0 242.9,546.2 246.1,536.8 249.3,536.9 253.2,534.5 255.7,531.4 258.9,528.1 262.1,527.9 265.1,526.1 268.5,527.9 271.7,522.4 274.9,522.2 277.0,521.6 281.3,521.7 284.5,508.6 288.8,515.8 290.9,510.4 294.1,511.7 297.3,505.0 300.7,503.6 303.7,502.1 306.9,495.8 310.1,500.4 312.6,501.6 316.5,498.6 319.7,495.3 322.9,494.1 324.5,494.4 326.1,492.5 329.3,488.5 332.5,487.5 336.4,492.5 338.9,492.2 342.1,488.9 345.3,479.8 348.3,482.2 351.7,480.7 354.9,474.8 358.1,477.2 360.1,475.4 364.5,470.7 367.7,469.9 372.0,466.2 374.1,463.5 377.3,466.6 379.2,469.2 380.5,464.8 383.7,464.8 386.9,461.9 388.7,456.9 390.1,450.9 393.3,463.0 396.5,463.7 398.2,465.8 399.7,463.6 402.9,461.3 406.1,455.9 407.7,461.1 409.3,456.6 412.5,465.9 415.7,466.8 417.2,470.2 418.9,471.8 422.1,464.7 425.3,458.7 426.7,463.5 428.5,454.9 431.7,449.3 436.2,451.8 438.1,445.1 441.3,437.4 445.7,428.5 447.7,422.3 450.9,413.5 455.2,401.0 457.3,393.6 460.5,386.4 462.3,380.1 463.7,380.6 466.9,374.9 470.7,368.8 473.3,376.6 476.5,381.9 479.0,386.3 482.9,392.6 486.1,390.2 489.3,397.8 490.9,397.4 492.5,399.6 495.7,408.2 498.9,407.7 502.7,421.5 505.3,428.5 508.5,432.6 511.7,445.0 514.6,451.5 518.1,457.3 521.3,469.9 524.5,468.5 526.5,469.7 530.9,473.8 534.1,483.6 538.4,487.2 540.5,489.8 543.7,493.9 546.9,494.2 550.3,503.3 553.3,514.5 556.5,520.4 558.5,523.1 562.9,535.1 566.1,541.7 568.0,541.8 572.5,541.5 575.7,546.7 577.5,549.6 578.9,550.0 582.1,555.0 585.3,556.0 587.0,557.1 588.5,559.8 591.7,552.0 594.9,558.3 598.9,561.5 601.3,559.9 604.5,554.2 606.1,564.0 607.7,564.4 610.9,550.3 614.1,551.8 615.6,551.9 617.3,548.1 620.5,539.8 623.7,536.7 625.1,536.4 626.9,533.8 630.1,535.1 634.6,536.3 636.5,533.5 639.7,538.9 644.1,532.5 646.1,527.7 649.3,536.1 653.6,541.3 655.7,545.1 658.9,544.5 663.1,548.9 665.3,549.0 668.5,554.8 672.6,560.9 674.9,566.1 678.1,568.3 682.1,571.2 684.5,573.7 687.7,571.6 690.9,567.1 694.0,576.1 697.3,571.7 700.5,577.9 703.7,569.7 705.9,573.4 710.1,566.8 713.3,567.3 715.4,568.6 719.7,558.3 722.5,556.6 726.1,547.7 729.3,532.8 732.0,534.5 735.7,539.1 738.9,535.4 741.5,540.2 745.3,528.2 748.7,522.0 751.7,518.4 754.9,510.0 758.2,517.3 761.3,512.1 764.5,510.5 767.7,504.7 770.9,495.9 774.1,494.5 777.3,485.7 779.6,486.3 783.7,482.5 786.9,483.1 789.1,479.8 793.3,468.8 796.5,460.3 798.6,458.7 802.9,455.6 806.1,454.8 808.1,454.0 812.5,451.1 815.7,446.0 817.6,444.0 818.9,439.1 822.1,429.0 825.3,431.8 827.1,427.7 828.5,422.4 831.7,406.6 834.2,396.4 838.1,389.4 841.3,392.3 843.7,396.5 847.7,390.8 850.9,376.9 854.1,365.2 858.0,353.6 860.5,337.1 862.7,322.1 866.9,302.6 869.9,289.4 873.3,278.7 877.0,274.3 879.7,272.0 883.3,263.4 886.1,270.3 889.3,279.1 891.2,283.6 895.7,310.4 898.9,322.1 902.1,341.7 904.8,356.4 909.3,392.0 911.7,402.0 914.9,404.3 918.4,423.8 921.3,433.0 924.5,436.3 927.4,448.3 930.9,449.7 934.1,461.8 936.5,464.2 940.5,470.2 943.7,473.4 945.5,475.7 946.9,475.1 950.1,484.7 954.6,493.2 956.5,496.5 959.7,495.9 962.9,495.6 966.1,499.0 968.1,499.8 970.8,497.4 972.5,503.7 975.6,513.6 978.9,517.0 982.1,512.2 985.1,515.3 988.5,511.1 991.0,508.8 994.9,518.0 997.0,523.9 1001.3,520.2 1004.5,527.7 1008.8,525.3 1010.9,523.3 1014.1,523.2 1018.3,519.6 1020.5,516.9 1023.7,522.3 1027.8,523.6 1030.1,524.7 1033.3,524.2 1037.4,523.9 1039.7,516.1 1042.9,519.1 1046.1,514.8 1049.2,510.8 1052.5,518.7 1056.4,523.5 1058.9,515.6 1062.1,521.5 1065.9,519.6 1068.5,522.0 1071.7,521.0 1074.9,521.5 1077.8,516.1 1081.3,514.0 1084.5,516.8 1087.3,516.8 1090.9,521.1 1094.1,519.4 1096.8,523.9 1100.5,518.4 1103.7,521.0 1106.3,519.8 1110.1,520.1 1113.3,512.2 1115.8,519.0 1119.7,517.8 1122.9,508.3 1125.3,509.7 1129.3,511.7 1132.5,500.9 1134.8,508.0 1138.9,512.9 1141.9,514.4 1145.3,513.8 1148.5,513.8 1151.4,515.5 1154.9,517.0 1158.1,524.9 1160.9,524.5 1164.5,517.7 1167.7,521.1 1170.5,519.7 1174.1,518.9 1177.3,521.0 1180.5,518.0 1184.7,518.0 1186.9,516.1 1190.1,518.3 1193.3,518.2 1196.6,517.9 1199.7,513.0 1202.9,518.8 1206.1,514.5 1208.5,519.6 1212.5,518.6 1215.7,513.1 1218.9,512.8 1220.4,514.8 1222.1,511.3 1225.3,510.2 1228.5,506.5 1229.9,509.7 1231.7,509.1 1234.9,516.7 1237.0,518.6 1241.3,516.2 1244.5,512.7 1246.5,514.9 1250.9,513.4 1253.6,522.5 1257.3,516.2 1260.5,516.8 1263.1,514.8 1266.9,509.7 1270.1,514.3 1273.3,516.2 1275.0,514.7 1276.5,517.1 1279.7,511.8 1282.9,520.7 1284.5,521.7 1286.1,521.5 1290.0,524.0 1292.5,519.2 1295.2,518.2 1298.9,523.2 1302.1,523.0 1304.7,530.0 1308.5,524.0 1311.7,517.9 1314.9,508.4 1316.5,506.2 1318.1,512.1 1321.3,516.8 1323.7,525.7 1327.7,520.1 1330.9,519.5 1333.2,526.2 1337.3,523.9 1340.5,527.6 1343.7,520.1 1345.1,524.7 1346.9,530.8 1350.1,531.5 1354.6,536.2 1356.5,533.9 1359.7,534.0 1362.9,524.6 1366.5,529.9 1369.3,520.3 1372.5,521.2 1375.7,525.3 1378.9,517.1 1380.7,518.8 1382.1,520.4 1385.3,520.8 1388.5,519.6 1392.6,530.5 1394.9,528.4 1398.1,529.6 1401.3,529.8 1404.5,530.0 1407.7,519.6 1410.9,526.5 1414.1,524.7 1416.4,529.7 1420.5,533.4 1423.7,531.2 1425.9,535.1 1430.1,538.4 1433.3,541.0 1437.8,539.8 1439.7,537.9 1442.9,532.5 1446.1,527.0 1449.6,525.7 1452.5,520.4 1455.7,522.9 1459.2,535.1 1462.1,537.9 1465.3,533.3 1468.5,536.4 1471.0,536.6 1474.9,540.9 1478.1,538.0 1481.3,540.3 1482.9,541.9 1484.5,538.5 1487.7,531.3 1490.9,528.3 1494.8,519.8 1497.3,524.1 1500.5,528.3 1504.3,535.1 1506.9,538.7 1510.1,534.1 1513.3,535.2 1516.2,537.4 1519.7,538.9 1522.9,538.7 1526.1,538.7 1530.5,540.5 1532.5,533.2 1535.7,531.0 1538.9,538.8 1542.1,536.0 1544.7,537.6 1548.5,535.9 1551.7,544.8 1554.2,544.1 1558.1,545.1 1561.3,545.2 1564.5,535.2 1566.1,539.5 1567.7,536.2 1570.9,547.1 1574.1,544.4 1578.0,548.8 1580.5,543.5 1583.7,534.8 1587.5,532.0 1590.1,533.1 1592.2,532.2 1592.2,567.2 1590.1,573.3 1586.9,576.8 1583.7,577.7 1580.5,581.0 1578.0,577.8 1574.1,576.3 1570.9,576.8 1568.5,578.4 1564.5,579.2 1561.3,576.7 1558.1,572.9 1556.6,574.3 1554.9,570.5 1551.7,578.2 1548.5,578.7 1545.3,582.4 1542.3,581.9 1538.9,578.6 1535.7,578.0 1532.5,579.7 1530.5,574.0 1526.1,571.7 1522.9,573.3 1518.6,574.2 1516.5,574.7 1513.3,588.7 1509.1,582.8 1506.9,585.7 1503.7,579.2 1499.6,567.3 1497.3,565.8 1494.1,571.8 1490.9,572.5 1487.7,574.1 1484.5,575.4 1481.3,572.4 1478.1,564.4 1475.8,567.5 1471.7,574.8 1468.5,568.2 1465.3,567.7 1463.9,570.6 1462.1,568.0 1458.9,569.4 1455.7,566.7 1452.5,565.8 1449.6,561.9 1446.1,563.2 1442.9,568.8 1439.7,572.4 1437.8,571.5 1433.3,566.0 1430.1,568.0 1428.3,561.5 1426.9,571.2 1423.7,560.7 1420.5,555.7 1416.4,553.0 1414.1,552.1 1410.9,558.7 1407.7,559.3 1404.5,551.9 1401.3,550.0 1398.1,555.3 1394.9,559.6 1392.6,558.8 1388.5,555.6 1385.3,555.1 1383.1,553.8 1378.9,549.2 1375.7,544.0 1373.6,543.3 1369.3,550.1 1366.5,552.5 1362.9,553.9 1359.7,560.2 1356.5,564.2 1354.6,560.2 1350.1,557.1 1346.9,559.5 1343.7,570.7 1340.3,561.5 1337.3,562.8 1334.1,556.8 1330.9,563.2 1328.4,552.6 1324.5,554.4 1321.3,555.7 1318.1,565.2 1316.5,559.1 1314.9,557.2 1311.7,555.4 1308.5,559.8 1304.7,559.0 1302.1,556.1 1298.9,550.8 1295.2,547.0 1292.5,555.3 1289.3,559.0 1286.1,561.0 1282.9,568.8 1279.8,565.6 1276.5,568.2 1273.3,560.5 1270.3,563.3 1266.9,564.2 1263.7,571.1 1260.8,565.6 1257.3,564.3 1254.1,560.2 1251.3,560.0 1247.7,562.9 1244.5,561.5 1241.3,562.9 1239.4,562.2 1234.9,559.2 1231.7,552.5 1227.5,551.3 1225.3,560.0 1222.1,551.0 1218.9,548.1 1215.7,543.9 1213.2,544.6 1209.3,548.2 1206.1,548.1 1202.9,549.1 1199.0,547.1 1196.5,549.2 1193.3,548.3 1190.1,550.1 1186.9,555.6 1184.7,549.7 1180.5,551.9 1177.3,548.6 1174.1,553.1 1170.5,551.2 1167.7,551.3 1164.5,548.6 1161.3,546.4 1158.1,543.4 1156.2,546.5 1151.7,543.3 1148.5,549.1 1145.3,541.5 1141.9,541.2 1138.9,546.4 1135.7,548.3 1132.4,552.4 1129.3,549.6 1126.1,545.2 1122.9,550.7 1119.7,541.1 1118.2,544.2 1116.5,546.5 1113.3,550.3 1110.1,546.8 1106.9,549.1 1103.9,551.7 1100.5,548.8 1097.3,552.3 1094.1,554.0 1090.9,556.4 1087.3,553.2 1084.5,557.3 1081.3,551.2 1078.1,561.1 1075.4,549.7 1071.7,550.1 1068.5,550.5 1065.3,550.4 1061.1,551.8 1058.9,558.6 1055.7,553.9 1052.5,555.3 1049.3,549.4 1046.9,553.0 1042.9,559.2 1039.7,552.3 1036.5,546.4 1035.0,551.2 1033.3,555.7 1030.1,557.8 1026.9,563.0 1025.5,560.1 1023.7,560.3 1020.5,564.8 1017.3,569.1 1016.0,566.5 1014.1,565.7 1010.9,561.5 1008.8,559.5 1004.5,558.2 1001.3,550.1 997.0,551.4 994.9,557.0 991.7,552.6 988.5,552.5 985.1,554.5 982.1,553.4 978.9,552.6 975.7,553.5 973.2,544.6 969.3,539.1 966.1,544.5 963.7,541.7 959.7,537.5 956.5,527.4 953.3,525.2 951.8,521.3 950.1,522.6 946.9,514.2 943.7,511.6 942.3,511.1 940.5,503.5 938.7,497.6 937.3,495.3 934.1,487.9 931.9,481.2 927.7,474.9 924.5,470.4 922.9,468.2 921.3,466.3 918.1,454.7 913.8,443.4 911.7,439.4 908.5,431.1 904.8,412.1 902.1,398.1 898.0,380.1 895.7,369.7 891.2,341.5 889.3,330.6 886.1,325.7 883.1,308.9 879.7,316.9 876.5,324.6 874.6,326.1 873.3,327.7 870.1,336.4 867.5,333.3 862.7,370.4 860.5,385.2 857.3,398.4 855.6,400.4 854.1,406.7 850.9,414.6 848.5,427.8 844.5,435.9 841.3,445.5 839.0,441.0 834.2,457.2 831.7,468.0 828.5,479.2 827.1,486.4 825.3,480.7 822.3,474.0 818.9,487.9 815.7,489.6 812.8,497.4 809.3,494.1 806.1,491.6 803.3,479.7 798.6,500.0 796.2,502.1 793.3,505.7 790.1,516.5 786.7,517.7 783.7,518.2 780.5,525.6 777.2,525.5 774.1,527.8 770.9,528.0 767.7,531.8 764.5,540.1 761.3,543.6 758.2,550.8 754.9,555.0 751.7,558.2 748.7,561.2 745.3,564.6 742.1,572.1 739.2,572.5 735.7,577.2 732.0,589.0 729.3,593.5 726.1,605.1 722.9,598.6 720.1,599.6 716.5,594.2 713.3,597.8 710.1,599.4 705.9,597.7 703.7,602.7 700.5,601.3 696.4,603.2 694.1,603.8 690.9,604.7 686.9,604.9 684.5,600.7 681.3,602.1 677.4,598.8 674.9,596.2 671.7,597.1 667.8,589.5 665.3,589.3 662.1,582.4 658.9,583.4 655.7,577.9 653.6,574.7 649.3,574.3 646.1,578.2 642.9,570.2 639.3,571.4 636.5,572.8 633.3,571.3 629.8,574.2 626.9,584.6 623.7,586.1 620.3,594.0 617.3,592.5 614.1,596.4 610.8,591.9 607.7,596.3 604.5,597.6 601.3,600.2 598.1,601.3 594.9,597.8 591.7,596.3 589.4,591.6 585.3,589.0 582.1,583.2 578.9,582.2 577.5,581.3 575.7,580.2 572.5,572.7 569.3,574.3 565.7,575.3 562.9,567.2 558.5,552.3 556.5,558.8 553.3,557.1 550.3,549.0 546.9,541.7 543.7,544.0 540.5,543.4 538.4,535.6 534.1,530.3 530.9,513.6 526.5,502.6 524.5,498.9 521.3,508.1 518.1,494.4 514.6,490.4 511.7,482.3 508.5,484.1 505.3,484.7 502.7,481.0 498.9,474.3 495.7,471.3 492.5,454.9 490.9,450.7 489.3,456.7 486.1,441.7 482.9,436.4 479.0,426.6 476.5,429.0 473.3,418.8 470.1,426.9 466.9,427.8 464.7,419.3 460.5,426.2 457.3,441.0 455.2,436.1 450.9,449.9 447.7,459.8 445.7,460.5 441.3,477.3 438.1,483.6 436.2,488.4 431.7,486.2 428.5,489.3 425.3,496.0 421.9,493.6 418.9,490.3 415.7,491.4 412.5,491.6 409.3,498.3 407.7,493.6 406.1,498.2 402.9,497.7 399.7,502.5 396.5,511.6 393.4,513.1 390.1,502.8 386.9,503.3 383.9,499.1 380.5,504.3 377.3,504.9 374.4,493.6 370.9,497.0 367.7,502.3 364.5,506.8 360.1,513.9 358.1,515.7 354.9,519.7 351.7,518.7 348.5,523.4 345.3,519.5 342.1,524.8 338.9,519.6 336.4,520.5 332.5,523.3 329.3,524.0 326.1,526.0 322.9,533.7 319.7,532.0 316.5,539.2 312.6,532.6 310.1,536.0 306.9,539.4 303.7,537.5 300.5,538.5 297.3,542.6 294.1,546.3 290.9,550.5 288.8,548.2 284.5,558.1 281.3,550.0 278.1,560.2 274.9,555.6 271.7,558.3 268.5,563.3 265.1,561.6 262.1,561.9 258.9,573.8 255.7,574.6 252.5,567.0 249.3,576.2 246.1,577.3 242.9,577.2 241.3,577.2 239.7,578.0 236.5,573.6 233.3,585.3 230.1,580.3 226.9,583.6 223.7,580.1 220.5,586.4 217.5,584.1 214.1,587.2 210.9,582.2 207.7,590.6 204.5,584.5 201.3,594.9 198.1,600.9 193.8,593.2 191.7,595.8 188.5,592.0 184.3,595.4 182.1,592.6 179.5,595.7Z"/>
</g>
<path d="M220.3,1068.5 V1093.5 M416.3,1068.5 V1093.5 M612.3,1068.5 V1093.5 M808.3,1068.5 V1093.5 M1004.3,1068.5 V1093.5 M1200.3,1068.5 V1093.5 M1396.3,1068.5 V1093.5 M1592.3,1068.5 V1093.5 M318.3,1068.5 V1083.5 M514.3,1068.5 V1083.5 M710.3,1068.5 V1083.5 M906.3,1068.5 V1083.5 M1102.3,1068.5 V1083.5 M1298.3,1068.5 V1083.5 M1494.3,1068.5 V1083.5" stroke="#000" stroke-width="8" fill="none"/>
<text transform="translate(219.3,1160.7) scale(1,1.035)" font-size="71" text-anchor="middle">250</text>
<text transform="translate(415.3,1160.7) scale(1,1.035)" font-size="71" text-anchor="middle">500</text>
<text transform="translate(611.3,1160.7) scale(1,1.035)" font-size="71" text-anchor="middle">750</text>
<text transform="translate(807.3,1160.7) scale(1,1.035)" font-size="71" text-anchor="middle">1000</text>
<text transform="translate(1003.3,1160.7) scale(1,1.035)" font-size="71" text-anchor="middle">1250</text>
<text transform="translate(1199.3,1160.7) scale(1,1.035)" font-size="71" text-anchor="middle">1500</text>
<text transform="translate(1395.3,1160.7) scale(1,1.035)" font-size="71" text-anchor="middle">1750</text>
<text transform="translate(1591.3,1160.7) scale(1,1.035)" font-size="71" text-anchor="middle">2000</text>
<text transform="translate(554.0,1294.4) scale(1,1.055)" font-size="76">Raman Shift (cm<tspan font-size="46" dy="-36.3">-1</tspan><tspan dy="36.3">)</tspan></text>
<text transform="translate(75,856.5) rotate(-90) scale(1,1.055)" font-size="76">Intensity (a.u.)</text>
<text transform="translate(329.6,411.2) scale(1,1.035)" font-size="71.3">TO</text>
<text transform="translate(423.4,310.8) scale(1,1.035)" font-size="71.3">LO</text>
<text transform="translate(571.2,504.3) scale(1,1.035)" font-size="71.3">2TO</text>
<text transform="translate(835.0,209.6) scale(1,1.035)" font-size="71.3">2LO</text>
<line x1="1192.5" y1="110.0" x2="1317.5" y2="110.0" stroke="#000000" stroke-width="8.5" stroke-linecap="round"/>
<text transform="translate(1334.0,128.0) scale(1,1.055)" font-size="66.3">RT</text>
<line x1="1192.5" y1="193.2" x2="1317.5" y2="193.2" stroke="#ff0000" stroke-width="8.5" stroke-linecap="round"/>
<text transform="translate(1331.8,211.8) scale(1,1.035)" font-size="67">100 <tspan x="134.2" dy="-1.2" font-size="61" textLength="58.3" lengthAdjust="spacingAndGlyphs" style="font-weight:300">℃</tspan></text>
<line x1="1192.5" y1="276.4" x2="1317.5" y2="276.4" stroke="#0000ff" stroke-width="8.5" stroke-linecap="round"/>
<text transform="translate(1331.8,295.0) scale(1,1.035)" font-size="67">200 <tspan x="134.2" dy="-1.2" font-size="61" textLength="58.3" lengthAdjust="spacingAndGlyphs" style="font-weight:300">℃</tspan></text>
<line x1="1192.5" y1="359.6" x2="1317.5" y2="359.6" stroke="#ff00ff" stroke-width="8.5" stroke-linecap="round"/>
<text transform="translate(1331.8,378.2) scale(1,1.035)" font-size="67">300 <tspan x="134.2" dy="-1.2" font-size="61" textLength="58.3" lengthAdjust="spacingAndGlyphs" style="font-weight:300">℃</tspan></text>
<line x1="1192.5" y1="442.8" x2="1317.5" y2="442.8" stroke="#008000" stroke-width="8.5" stroke-linecap="round"/>
<text transform="translate(1331.8,461.4) scale(1,1.035)" font-size="67">400 <tspan x="134.2" dy="-1.2" font-size="61" textLength="58.3" lengthAdjust="spacingAndGlyphs" style="font-weight:300">℃</tspan></text>
</g>
</svg></body></html>
